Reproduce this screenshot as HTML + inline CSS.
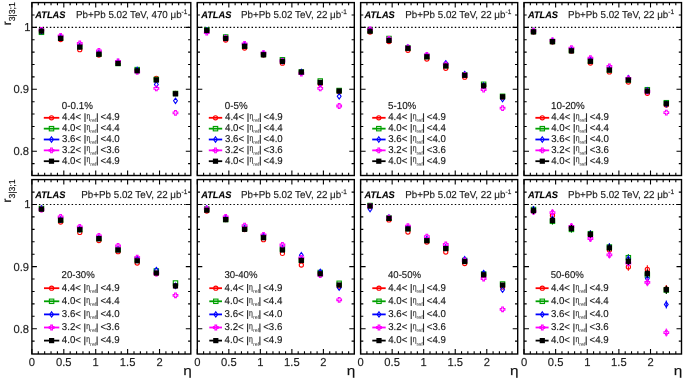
<!DOCTYPE html><html><head><meta charset="utf-8"><style>
html,body{margin:0;padding:0;background:#fff;width:685px;height:380px;overflow:hidden}
svg{display:block;font-family:"Liberation Sans", sans-serif;will-change:transform;text-rendering:geometricPrecision} svg text{stroke:#000;stroke-width:0.25px;stroke-opacity:0.5}
</style></head><body>
<svg width="685" height="380" viewBox="0 0 685 380">
<rect width="685" height="380" fill="#fff"/>
<g><line x1="31.90" y1="27.40" x2="190.80" y2="27.40" stroke="#000" stroke-width="1.15" stroke-dasharray="1.45 2.18" stroke-dashoffset="0.2"/><path d="M31.90 175.50v-5M31.90 2.60v5M38.28 175.50v-2.7M38.28 2.60v2.7M44.66 175.50v-2.7M44.66 2.60v2.7M51.04 175.50v-2.7M51.04 2.60v2.7M57.43 175.50v-2.7M57.43 2.60v2.7M63.81 175.50v-5M63.81 2.60v5M70.19 175.50v-2.7M70.19 2.60v2.7M76.57 175.50v-2.7M76.57 2.60v2.7M82.95 175.50v-2.7M82.95 2.60v2.7M89.33 175.50v-2.7M89.33 2.60v2.7M95.72 175.50v-5M95.72 2.60v5M102.10 175.50v-2.7M102.10 2.60v2.7M108.48 175.50v-2.7M108.48 2.60v2.7M114.86 175.50v-2.7M114.86 2.60v2.7M121.24 175.50v-2.7M121.24 2.60v2.7M127.62 175.50v-5M127.62 2.60v5M134.00 175.50v-2.7M134.00 2.60v2.7M140.39 175.50v-2.7M140.39 2.60v2.7M146.77 175.50v-2.7M146.77 2.60v2.7M153.15 175.50v-2.7M153.15 2.60v2.7M159.53 175.50v-5M159.53 2.60v5M165.91 175.50v-2.7M165.91 2.60v2.7M172.29 175.50v-2.7M172.29 2.60v2.7M178.68 175.50v-2.7M178.68 2.60v2.7M185.06 175.50v-2.7M185.06 2.60v2.7M31.90 163.58h2.7M190.80 163.58h-2.7M31.90 151.20h5M190.80 151.20h-5M31.90 138.82h2.7M190.80 138.82h-2.7M31.90 126.44h2.7M190.80 126.44h-2.7M31.90 114.06h2.7M190.80 114.06h-2.7M31.90 101.68h2.7M190.80 101.68h-2.7M31.90 89.30h5M190.80 89.30h-5M31.90 76.92h2.7M190.80 76.92h-2.7M31.90 64.54h2.7M190.80 64.54h-2.7M31.90 52.16h2.7M190.80 52.16h-2.7M31.90 39.78h2.7M190.80 39.78h-2.7M31.90 27.40h5M190.80 27.40h-5M31.90 15.02h2.7M190.80 15.02h-2.7" stroke="#000" stroke-width="1.1" fill="none"/><circle cx="41.47" cy="31.00" r="2.10" fill="none" stroke="#ff0000" stroke-width="1.1"/><rect x="39.27" y="30.10" width="4.40" height="4.40" fill="none" stroke="#00a000" stroke-width="1.1"/><path d="M41.47 28.30L43.37 31.00L41.47 33.70L39.57 31.00Z" fill="none" stroke="#0000ff" stroke-width="1.1"/><path d="M40.62 27.45H42.32V28.95H43.82V30.65H42.32V32.15H40.62V30.65H39.12V28.95H40.62Z" fill="none" stroke="#ff00ff" stroke-width="1.1"/><rect x="38.87" y="28.50" width="5.20" height="5.20" fill="#000000"/><circle cx="60.62" cy="39.50" r="2.10" fill="none" stroke="#ff0000" stroke-width="1.1"/><rect x="58.42" y="35.80" width="4.40" height="4.40" fill="none" stroke="#00a000" stroke-width="1.1"/><path d="M60.62 34.80L62.52 37.50L60.62 40.20L58.72 37.50Z" fill="none" stroke="#0000ff" stroke-width="1.1"/><path d="M59.77 33.65H61.47V35.15H62.97V36.85H61.47V38.35H59.77V36.85H58.27V35.15H59.77Z" fill="none" stroke="#ff00ff" stroke-width="1.1"/><rect x="58.02" y="35.80" width="5.20" height="5.20" fill="#000000"/><circle cx="79.76" cy="49.70" r="2.10" fill="none" stroke="#ff0000" stroke-width="1.1"/><rect x="77.56" y="44.30" width="4.40" height="4.40" fill="none" stroke="#00a000" stroke-width="1.1"/><path d="M79.76 43.30L81.66 46.00L79.76 48.70L77.86 46.00Z" fill="none" stroke="#0000ff" stroke-width="1.1"/><path d="M78.91 41.15H80.61V42.65H82.11V44.35H80.61V45.85H78.91V44.35H77.41V42.65H78.91Z" fill="none" stroke="#ff00ff" stroke-width="1.1"/><rect x="77.16" y="44.50" width="5.20" height="5.20" fill="#000000"/><circle cx="98.91" cy="55.00" r="2.10" fill="none" stroke="#ff0000" stroke-width="1.1"/><rect x="96.71" y="51.80" width="4.40" height="4.40" fill="none" stroke="#00a000" stroke-width="1.1"/><path d="M98.91 50.30L100.81 53.00L98.91 55.70L97.01 53.00Z" fill="none" stroke="#0000ff" stroke-width="1.1"/><path d="M98.06 48.65H99.76V50.15H101.26V51.85H99.76V53.35H98.06V51.85H96.56V50.15H98.06Z" fill="none" stroke="#ff00ff" stroke-width="1.1"/><rect x="96.31" y="51.60" width="5.20" height="5.20" fill="#000000"/><circle cx="118.05" cy="63.00" r="2.10" fill="none" stroke="#ff0000" stroke-width="1.1"/><rect x="115.85" y="61.30" width="4.40" height="4.40" fill="none" stroke="#00a000" stroke-width="1.1"/><path d="M118.05 59.30L119.95 62.00L118.05 64.70L116.15 62.00Z" fill="none" stroke="#0000ff" stroke-width="1.1"/><path d="M117.20 59.15H118.90V60.65H120.40V62.35H118.90V63.85H117.20V62.35H115.70V60.65H117.20Z" fill="none" stroke="#ff00ff" stroke-width="1.1"/><rect x="115.45" y="60.80" width="5.20" height="5.20" fill="#000000"/><circle cx="137.20" cy="70.50" r="2.10" fill="none" stroke="#ff0000" stroke-width="1.1"/><rect x="135.00" y="67.40" width="4.40" height="4.40" fill="none" stroke="#00a000" stroke-width="1.1"/><path d="M137.20 67.30L139.10 70.00L137.20 72.70L135.30 70.00Z" fill="none" stroke="#0000ff" stroke-width="1.1"/><path d="M136.35 69.45H138.05V70.95H139.55V72.65H138.05V74.15H136.35V72.65H134.85V70.95H136.35Z" fill="none" stroke="#ff00ff" stroke-width="1.1"/><rect x="134.60" y="68.20" width="5.20" height="5.20" fill="#000000"/><circle cx="156.34" cy="78.40" r="2.10" fill="none" stroke="#ff0000" stroke-width="1.1"/><rect x="154.14" y="77.30" width="4.40" height="4.40" fill="none" stroke="#00a000" stroke-width="1.1"/><path d="M156.34 81.80L158.24 84.50L156.34 87.20L154.44 84.50Z" fill="none" stroke="#0000ff" stroke-width="1.1"/><path d="M155.49 86.05H157.19V87.55H158.69V89.25H157.19V90.75H155.49V89.25H153.99V87.55H155.49Z" fill="none" stroke="#ff00ff" stroke-width="1.1"/><rect x="153.74" y="77.40" width="5.20" height="5.20" fill="#000000"/><circle cx="175.48" cy="93.50" r="2.10" fill="none" stroke="#ff0000" stroke-width="1.1"/><rect x="173.28" y="91.30" width="4.40" height="4.40" fill="none" stroke="#00a000" stroke-width="1.1"/><path d="M175.48 98.10L177.38 100.80L175.48 103.50L173.58 100.80Z" fill="none" stroke="#0000ff" stroke-width="1.1"/><path d="M174.63 110.55H176.33V112.05H177.83V113.75H176.33V115.25H174.63V113.75H173.13V112.05H174.63Z" fill="none" stroke="#ff00ff" stroke-width="1.1"/><rect x="172.88" y="91.20" width="5.20" height="5.20" fill="#000000"/><rect x="31.90" y="2.60" width="158.90" height="172.90" fill="none" stroke="#000" stroke-width="1.4"/><text transform="matrix(1 0 0 1.03 0 -0.540)" x="35.30" y="18.0" font-size="9.25" font-weight="bold" font-style="italic" fill="#000">ATLAS</text><text transform="matrix(1 0 0 1.03 0 -0.540)" x="76.00" y="18.0" font-size="9.8" fill="#222">Pb+Pb 5.02 TeV, 470 μb<tspan font-size="6.5" dy="-4.2">-1</tspan></text><text transform="matrix(1 0 0 1.03 0 -3.264)" x="61.80" y="108.8" font-size="9.8" fill="#1a1a1a">0-0.1%</text><line x1="43.80" y1="117.80" x2="59.30" y2="117.80" stroke="#ff0000" stroke-width="1.8"/><circle cx="51.50" cy="117.80" r="2.10" fill="none" stroke="#ff0000" stroke-width="1.1"/><text transform="matrix(1 0 0 1.03 0 -3.603)" x="62.00" y="120.10" font-size="9.7" fill="#1a1a1a">4.4&lt;</text><path d="M85.00 113.20V122.00M97.30 113.20V122.00" stroke="#2a2a2a" stroke-width="1.1"/><text x="86.50" y="118.90" font-size="8.8" fill="#333" transform="translate(86.50 0) scale(0.78 1) translate(-86.50 0)">η</text><text x="90.30" y="122.20" font-size="5.4" fill="#444" style="stroke:none">ref</text><text transform="matrix(1 0 0 1.03 0 -3.603)" x="100.60" y="120.10" font-size="9.7" fill="#1a1a1a">&lt;4.9</text><line x1="43.80" y1="128.65" x2="59.30" y2="128.65" stroke="#00a000" stroke-width="1.8"/><rect x="49.30" y="126.45" width="4.40" height="4.40" fill="none" stroke="#00a000" stroke-width="1.1"/><text transform="matrix(1 0 0 1.03 0 -3.929)" x="62.00" y="130.95" font-size="9.7" fill="#1a1a1a">4.0&lt;</text><path d="M85.00 124.05V132.85M97.30 124.05V132.85" stroke="#2a2a2a" stroke-width="1.1"/><text x="86.50" y="129.75" font-size="8.8" fill="#333" transform="translate(86.50 0) scale(0.78 1) translate(-86.50 0)">η</text><text x="90.30" y="133.05" font-size="5.4" fill="#444" style="stroke:none">ref</text><text transform="matrix(1 0 0 1.03 0 -3.929)" x="100.60" y="130.95" font-size="9.7" fill="#1a1a1a">&lt;4.4</text><line x1="43.80" y1="139.50" x2="59.30" y2="139.50" stroke="#0000ff" stroke-width="1.8"/><path d="M51.50 136.80L53.40 139.50L51.50 142.20L49.60 139.50Z" fill="none" stroke="#0000ff" stroke-width="1.1"/><text transform="matrix(1 0 0 1.03 0 -4.254)" x="62.00" y="141.80" font-size="9.7" fill="#1a1a1a">3.6&lt;</text><path d="M85.00 134.90V143.70M97.30 134.90V143.70" stroke="#2a2a2a" stroke-width="1.1"/><text x="86.50" y="140.60" font-size="8.8" fill="#333" transform="translate(86.50 0) scale(0.78 1) translate(-86.50 0)">η</text><text x="90.30" y="143.90" font-size="5.4" fill="#444" style="stroke:none">ref</text><text transform="matrix(1 0 0 1.03 0 -4.254)" x="100.60" y="141.80" font-size="9.7" fill="#1a1a1a">&lt;4.0</text><line x1="43.80" y1="150.35" x2="59.30" y2="150.35" stroke="#ff00ff" stroke-width="1.8"/><path d="M50.65 148.00H52.35V149.50H53.85V151.20H52.35V152.70H50.65V151.20H49.15V149.50H50.65Z" fill="none" stroke="#ff00ff" stroke-width="1.1"/><text transform="matrix(1 0 0 1.03 0 -4.580)" x="62.00" y="152.65" font-size="9.7" fill="#1a1a1a">3.2&lt;</text><path d="M85.00 145.75V154.55M97.30 145.75V154.55" stroke="#2a2a2a" stroke-width="1.1"/><text x="86.50" y="151.45" font-size="8.8" fill="#333" transform="translate(86.50 0) scale(0.78 1) translate(-86.50 0)">η</text><text x="90.30" y="154.75" font-size="5.4" fill="#444" style="stroke:none">ref</text><text transform="matrix(1 0 0 1.03 0 -4.580)" x="100.60" y="152.65" font-size="9.7" fill="#1a1a1a">&lt;3.6</text><line x1="43.80" y1="161.20" x2="59.30" y2="161.20" stroke="#000000" stroke-width="1.8"/><rect x="48.90" y="158.60" width="5.20" height="5.20" fill="#000000"/><text transform="matrix(1 0 0 1.03 0 -4.905)" x="62.00" y="163.50" font-size="9.7" fill="#1a1a1a">4.0&lt;</text><path d="M85.00 156.60V165.40M97.30 156.60V165.40" stroke="#2a2a2a" stroke-width="1.1"/><text x="86.50" y="162.30" font-size="8.8" fill="#333" transform="translate(86.50 0) scale(0.78 1) translate(-86.50 0)">η</text><text x="90.30" y="165.60" font-size="5.4" fill="#444" style="stroke:none">ref</text><text transform="matrix(1 0 0 1.03 0 -4.905)" x="100.60" y="163.50" font-size="9.7" fill="#1a1a1a">&lt;4.9</text></g>
<g><line x1="197.30" y1="27.40" x2="354.30" y2="27.40" stroke="#000" stroke-width="1.15" stroke-dasharray="1.45 2.18" stroke-dashoffset="0.2"/><path d="M197.30 175.50v-5M197.30 2.60v5M203.61 175.50v-2.7M203.61 2.60v2.7M209.91 175.50v-2.7M209.91 2.60v2.7M216.22 175.50v-2.7M216.22 2.60v2.7M222.52 175.50v-2.7M222.52 2.60v2.7M228.83 175.50v-5M228.83 2.60v5M235.13 175.50v-2.7M235.13 2.60v2.7M241.44 175.50v-2.7M241.44 2.60v2.7M247.74 175.50v-2.7M247.74 2.60v2.7M254.05 175.50v-2.7M254.05 2.60v2.7M260.35 175.50v-5M260.35 2.60v5M266.66 175.50v-2.7M266.66 2.60v2.7M272.96 175.50v-2.7M272.96 2.60v2.7M279.27 175.50v-2.7M279.27 2.60v2.7M285.57 175.50v-2.7M285.57 2.60v2.7M291.88 175.50v-5M291.88 2.60v5M298.18 175.50v-2.7M298.18 2.60v2.7M304.49 175.50v-2.7M304.49 2.60v2.7M310.79 175.50v-2.7M310.79 2.60v2.7M317.10 175.50v-2.7M317.10 2.60v2.7M323.40 175.50v-5M323.40 2.60v5M329.71 175.50v-2.7M329.71 2.60v2.7M336.01 175.50v-2.7M336.01 2.60v2.7M342.32 175.50v-2.7M342.32 2.60v2.7M348.63 175.50v-2.7M348.63 2.60v2.7M197.30 163.58h2.7M354.30 163.58h-2.7M197.30 151.20h5M354.30 151.20h-5M197.30 138.82h2.7M354.30 138.82h-2.7M197.30 126.44h2.7M354.30 126.44h-2.7M197.30 114.06h2.7M354.30 114.06h-2.7M197.30 101.68h2.7M354.30 101.68h-2.7M197.30 89.30h5M354.30 89.30h-5M197.30 76.92h2.7M354.30 76.92h-2.7M197.30 64.54h2.7M354.30 64.54h-2.7M197.30 52.16h2.7M354.30 52.16h-2.7M197.30 39.78h2.7M354.30 39.78h-2.7M197.30 27.40h5M354.30 27.40h-5M197.30 15.02h2.7M354.30 15.02h-2.7" stroke="#000" stroke-width="1.1" fill="none"/><circle cx="206.76" cy="30.50" r="2.10" fill="none" stroke="#ff0000" stroke-width="1.1"/><rect x="204.56" y="27.80" width="4.40" height="4.40" fill="none" stroke="#00a000" stroke-width="1.1"/><path d="M206.76 27.80L208.66 30.50L206.76 33.20L204.86 30.50Z" fill="none" stroke="#0000ff" stroke-width="1.1"/><path d="M205.91 30.25H207.61V31.75H209.11V33.45H207.61V34.95H205.91V33.45H204.41V31.75H205.91Z" fill="none" stroke="#ff00ff" stroke-width="1.1"/><rect x="204.16" y="27.90" width="5.20" height="5.20" fill="#000000"/><circle cx="225.67" cy="40.00" r="2.10" fill="none" stroke="#ff0000" stroke-width="1.1"/><rect x="223.47" y="34.80" width="4.40" height="4.40" fill="none" stroke="#00a000" stroke-width="1.1"/><path d="M225.67 35.30L227.57 38.00L225.67 40.70L223.77 38.00Z" fill="none" stroke="#0000ff" stroke-width="1.1"/><path d="M224.82 35.65H226.52V37.15H228.02V38.85H226.52V40.35H224.82V38.85H223.32V37.15H224.82Z" fill="none" stroke="#ff00ff" stroke-width="1.1"/><rect x="223.07" y="35.80" width="5.20" height="5.20" fill="#000000"/><circle cx="244.59" cy="48.00" r="2.10" fill="none" stroke="#ff0000" stroke-width="1.1"/><rect x="242.39" y="43.80" width="4.40" height="4.40" fill="none" stroke="#00a000" stroke-width="1.1"/><path d="M244.59 42.80L246.49 45.50L244.59 48.20L242.69 45.50Z" fill="none" stroke="#0000ff" stroke-width="1.1"/><path d="M243.74 41.65H245.44V43.15H246.94V44.85H245.44V46.35H243.74V44.85H242.24V43.15H243.74Z" fill="none" stroke="#ff00ff" stroke-width="1.1"/><rect x="241.99" y="43.70" width="5.20" height="5.20" fill="#000000"/><circle cx="263.50" cy="55.00" r="2.10" fill="none" stroke="#ff0000" stroke-width="1.1"/><rect x="261.30" y="52.30" width="4.40" height="4.40" fill="none" stroke="#00a000" stroke-width="1.1"/><path d="M263.50 51.30L265.40 54.00L263.50 56.70L261.60 54.00Z" fill="none" stroke="#0000ff" stroke-width="1.1"/><path d="M262.65 50.85H264.35V52.35H265.85V54.05H264.35V55.55H262.65V54.05H261.15V52.35H262.65Z" fill="none" stroke="#ff00ff" stroke-width="1.1"/><rect x="260.90" y="52.10" width="5.20" height="5.20" fill="#000000"/><circle cx="282.42" cy="63.20" r="2.10" fill="none" stroke="#ff0000" stroke-width="1.1"/><rect x="280.22" y="57.60" width="4.40" height="4.40" fill="none" stroke="#00a000" stroke-width="1.1"/><path d="M282.42 58.30L284.32 61.00L282.42 63.70L280.52 61.00Z" fill="none" stroke="#0000ff" stroke-width="1.1"/><path d="M281.57 58.65H283.27V60.15H284.77V61.85H283.27V63.35H281.57V61.85H280.07V60.15H281.57Z" fill="none" stroke="#ff00ff" stroke-width="1.1"/><rect x="279.82" y="58.80" width="5.20" height="5.20" fill="#000000"/><circle cx="301.34" cy="72.50" r="2.10" fill="none" stroke="#ff0000" stroke-width="1.1"/><rect x="299.14" y="69.80" width="4.40" height="4.40" fill="none" stroke="#00a000" stroke-width="1.1"/><path d="M301.34 69.30L303.24 72.00L301.34 74.70L299.44 72.00Z" fill="none" stroke="#0000ff" stroke-width="1.1"/><path d="M300.49 71.15H302.19V72.65H303.69V74.35H302.19V75.85H300.49V74.35H298.99V72.65H300.49Z" fill="none" stroke="#ff00ff" stroke-width="1.1"/><rect x="298.74" y="69.50" width="5.20" height="5.20" fill="#000000"/><circle cx="320.25" cy="84.00" r="2.10" fill="none" stroke="#ff0000" stroke-width="1.1"/><rect x="318.05" y="78.80" width="4.40" height="4.40" fill="none" stroke="#00a000" stroke-width="1.1"/><path d="M320.25 80.80L322.15 83.50L320.25 86.20L318.35 83.50Z" fill="none" stroke="#0000ff" stroke-width="1.1"/><path d="M319.40 86.05H321.10V87.55H322.60V89.25H321.10V90.75H319.40V89.25H317.90V87.55H319.40Z" fill="none" stroke="#ff00ff" stroke-width="1.1"/><rect x="317.65" y="79.80" width="5.20" height="5.20" fill="#000000"/><circle cx="339.17" cy="91.50" r="2.10" fill="none" stroke="#ff0000" stroke-width="1.1"/><rect x="336.97" y="88.30" width="4.40" height="4.40" fill="none" stroke="#00a000" stroke-width="1.1"/><path d="M339.17 93.60L341.07 96.30L339.17 99.00L337.27 96.30Z" fill="none" stroke="#0000ff" stroke-width="1.1"/><path d="M338.32 103.65H340.02V105.15H341.52V106.85H340.02V108.35H338.32V106.85H336.82V105.15H338.32Z" fill="none" stroke="#ff00ff" stroke-width="1.1"/><rect x="336.57" y="88.40" width="5.20" height="5.20" fill="#000000"/><rect x="197.30" y="2.60" width="157.00" height="172.90" fill="none" stroke="#000" stroke-width="1.4"/><text transform="matrix(1 0 0 1.03 0 -0.540)" x="201.20" y="18.0" font-size="9.25" font-weight="bold" font-style="italic" fill="#000">ATLAS</text><text transform="matrix(1 0 0 1.03 0 -0.540)" x="241.00" y="18.0" font-size="9.8" fill="#222">Pb+Pb 5.02 TeV, 22 μb<tspan font-size="6.5" dy="-4.2">-1</tspan></text><text transform="matrix(1 0 0 1.03 0 -3.264)" x="224.80" y="108.8" font-size="9.8" fill="#1a1a1a">0-5%</text><line x1="208.80" y1="117.80" x2="222.20" y2="117.80" stroke="#ff0000" stroke-width="1.8"/><circle cx="215.50" cy="117.80" r="2.10" fill="none" stroke="#ff0000" stroke-width="1.1"/><text transform="matrix(1 0 0 1.03 0 -3.603)" x="225.00" y="120.10" font-size="9.7" fill="#1a1a1a">4.4&lt;</text><path d="M248.00 113.20V122.00M260.30 113.20V122.00" stroke="#2a2a2a" stroke-width="1.1"/><text x="249.50" y="118.90" font-size="8.8" fill="#333" transform="translate(249.50 0) scale(0.78 1) translate(-249.50 0)">η</text><text x="253.30" y="122.20" font-size="5.4" fill="#444" style="stroke:none">ref</text><text transform="matrix(1 0 0 1.03 0 -3.603)" x="263.60" y="120.10" font-size="9.7" fill="#1a1a1a">&lt;4.9</text><line x1="208.80" y1="128.65" x2="222.20" y2="128.65" stroke="#00a000" stroke-width="1.8"/><rect x="213.30" y="126.45" width="4.40" height="4.40" fill="none" stroke="#00a000" stroke-width="1.1"/><text transform="matrix(1 0 0 1.03 0 -3.929)" x="225.00" y="130.95" font-size="9.7" fill="#1a1a1a">4.0&lt;</text><path d="M248.00 124.05V132.85M260.30 124.05V132.85" stroke="#2a2a2a" stroke-width="1.1"/><text x="249.50" y="129.75" font-size="8.8" fill="#333" transform="translate(249.50 0) scale(0.78 1) translate(-249.50 0)">η</text><text x="253.30" y="133.05" font-size="5.4" fill="#444" style="stroke:none">ref</text><text transform="matrix(1 0 0 1.03 0 -3.929)" x="263.60" y="130.95" font-size="9.7" fill="#1a1a1a">&lt;4.4</text><line x1="208.80" y1="139.50" x2="222.20" y2="139.50" stroke="#0000ff" stroke-width="1.8"/><path d="M215.50 136.80L217.40 139.50L215.50 142.20L213.60 139.50Z" fill="none" stroke="#0000ff" stroke-width="1.1"/><text transform="matrix(1 0 0 1.03 0 -4.254)" x="225.00" y="141.80" font-size="9.7" fill="#1a1a1a">3.6&lt;</text><path d="M248.00 134.90V143.70M260.30 134.90V143.70" stroke="#2a2a2a" stroke-width="1.1"/><text x="249.50" y="140.60" font-size="8.8" fill="#333" transform="translate(249.50 0) scale(0.78 1) translate(-249.50 0)">η</text><text x="253.30" y="143.90" font-size="5.4" fill="#444" style="stroke:none">ref</text><text transform="matrix(1 0 0 1.03 0 -4.254)" x="263.60" y="141.80" font-size="9.7" fill="#1a1a1a">&lt;4.0</text><line x1="208.80" y1="150.35" x2="222.20" y2="150.35" stroke="#ff00ff" stroke-width="1.8"/><path d="M214.65 148.00H216.35V149.50H217.85V151.20H216.35V152.70H214.65V151.20H213.15V149.50H214.65Z" fill="none" stroke="#ff00ff" stroke-width="1.1"/><text transform="matrix(1 0 0 1.03 0 -4.580)" x="225.00" y="152.65" font-size="9.7" fill="#1a1a1a">3.2&lt;</text><path d="M248.00 145.75V154.55M260.30 145.75V154.55" stroke="#2a2a2a" stroke-width="1.1"/><text x="249.50" y="151.45" font-size="8.8" fill="#333" transform="translate(249.50 0) scale(0.78 1) translate(-249.50 0)">η</text><text x="253.30" y="154.75" font-size="5.4" fill="#444" style="stroke:none">ref</text><text transform="matrix(1 0 0 1.03 0 -4.580)" x="263.60" y="152.65" font-size="9.7" fill="#1a1a1a">&lt;3.6</text><line x1="208.80" y1="161.20" x2="222.20" y2="161.20" stroke="#000000" stroke-width="1.8"/><rect x="212.90" y="158.60" width="5.20" height="5.20" fill="#000000"/><text transform="matrix(1 0 0 1.03 0 -4.905)" x="225.00" y="163.50" font-size="9.7" fill="#1a1a1a">4.0&lt;</text><path d="M248.00 156.60V165.40M260.30 156.60V165.40" stroke="#2a2a2a" stroke-width="1.1"/><text x="249.50" y="162.30" font-size="8.8" fill="#333" transform="translate(249.50 0) scale(0.78 1) translate(-249.50 0)">η</text><text x="253.30" y="165.60" font-size="5.4" fill="#444" style="stroke:none">ref</text><text transform="matrix(1 0 0 1.03 0 -4.905)" x="263.60" y="163.50" font-size="9.7" fill="#1a1a1a">&lt;4.9</text></g>
<g><line x1="360.60" y1="27.40" x2="517.70" y2="27.40" stroke="#000" stroke-width="1.15" stroke-dasharray="1.45 2.18" stroke-dashoffset="0.2"/><path d="M360.60 175.50v-5M360.60 2.60v5M366.91 175.50v-2.7M366.91 2.60v2.7M373.22 175.50v-2.7M373.22 2.60v2.7M379.53 175.50v-2.7M379.53 2.60v2.7M385.84 175.50v-2.7M385.84 2.60v2.7M392.15 175.50v-5M392.15 2.60v5M398.46 175.50v-2.7M398.46 2.60v2.7M404.76 175.50v-2.7M404.76 2.60v2.7M411.07 175.50v-2.7M411.07 2.60v2.7M417.38 175.50v-2.7M417.38 2.60v2.7M423.69 175.50v-5M423.69 2.60v5M430.00 175.50v-2.7M430.00 2.60v2.7M436.31 175.50v-2.7M436.31 2.60v2.7M442.62 175.50v-2.7M442.62 2.60v2.7M448.93 175.50v-2.7M448.93 2.60v2.7M455.24 175.50v-5M455.24 2.60v5M461.55 175.50v-2.7M461.55 2.60v2.7M467.86 175.50v-2.7M467.86 2.60v2.7M474.17 175.50v-2.7M474.17 2.60v2.7M480.48 175.50v-2.7M480.48 2.60v2.7M486.78 175.50v-5M486.78 2.60v5M493.09 175.50v-2.7M493.09 2.60v2.7M499.40 175.50v-2.7M499.40 2.60v2.7M505.71 175.50v-2.7M505.71 2.60v2.7M512.02 175.50v-2.7M512.02 2.60v2.7M360.60 163.58h2.7M517.70 163.58h-2.7M360.60 151.20h5M517.70 151.20h-5M360.60 138.82h2.7M517.70 138.82h-2.7M360.60 126.44h2.7M517.70 126.44h-2.7M360.60 114.06h2.7M517.70 114.06h-2.7M360.60 101.68h2.7M517.70 101.68h-2.7M360.60 89.30h5M517.70 89.30h-5M360.60 76.92h2.7M517.70 76.92h-2.7M360.60 64.54h2.7M517.70 64.54h-2.7M360.60 52.16h2.7M517.70 52.16h-2.7M360.60 39.78h2.7M517.70 39.78h-2.7M360.60 27.40h5M517.70 27.40h-5M360.60 15.02h2.7M517.70 15.02h-2.7" stroke="#000" stroke-width="1.1" fill="none"/><circle cx="370.06" cy="32.00" r="2.10" fill="none" stroke="#ff0000" stroke-width="1.1"/><rect x="367.86" y="28.30" width="4.40" height="4.40" fill="none" stroke="#00a000" stroke-width="1.1"/><path d="M370.06 27.30L371.96 30.00L370.06 32.70L368.16 30.00Z" fill="none" stroke="#0000ff" stroke-width="1.1"/><path d="M369.21 27.15H370.91V28.65H372.41V30.35H370.91V31.85H369.21V30.35H367.71V28.65H369.21Z" fill="none" stroke="#ff00ff" stroke-width="1.1"/><rect x="367.46" y="28.60" width="5.20" height="5.20" fill="#000000"/><circle cx="388.99" cy="41.50" r="2.10" fill="none" stroke="#ff0000" stroke-width="1.1"/><rect x="386.79" y="36.30" width="4.40" height="4.40" fill="none" stroke="#00a000" stroke-width="1.1"/><path d="M388.99 36.80L390.89 39.50L388.99 42.20L387.09 39.50Z" fill="none" stroke="#0000ff" stroke-width="1.1"/><path d="M388.14 36.65H389.84V38.15H391.34V39.85H389.84V41.35H388.14V39.85H386.64V38.15H388.14Z" fill="none" stroke="#ff00ff" stroke-width="1.1"/><rect x="386.39" y="37.80" width="5.20" height="5.20" fill="#000000"/><circle cx="407.92" cy="50.30" r="2.10" fill="none" stroke="#ff0000" stroke-width="1.1"/><rect x="405.72" y="45.80" width="4.40" height="4.40" fill="none" stroke="#00a000" stroke-width="1.1"/><path d="M407.92 44.80L409.82 47.50L407.92 50.20L406.02 47.50Z" fill="none" stroke="#0000ff" stroke-width="1.1"/><path d="M407.07 45.05H408.77V46.55H410.27V48.25H408.77V49.75H407.07V48.25H405.57V46.55H407.07Z" fill="none" stroke="#ff00ff" stroke-width="1.1"/><rect x="405.32" y="45.70" width="5.20" height="5.20" fill="#000000"/><circle cx="426.85" cy="59.00" r="2.10" fill="none" stroke="#ff0000" stroke-width="1.1"/><rect x="424.65" y="54.30" width="4.40" height="4.40" fill="none" stroke="#00a000" stroke-width="1.1"/><path d="M426.85 52.80L428.75 55.50L426.85 58.20L424.95 55.50Z" fill="none" stroke="#0000ff" stroke-width="1.1"/><path d="M426.00 52.65H427.70V54.15H429.20V55.85H427.70V57.35H426.00V55.85H424.50V54.15H426.00Z" fill="none" stroke="#ff00ff" stroke-width="1.1"/><rect x="424.25" y="54.20" width="5.20" height="5.20" fill="#000000"/><circle cx="445.77" cy="68.30" r="2.10" fill="none" stroke="#ff0000" stroke-width="1.1"/><rect x="443.57" y="63.30" width="4.40" height="4.40" fill="none" stroke="#00a000" stroke-width="1.1"/><path d="M445.77 60.60L447.67 63.30L445.77 66.00L443.87 63.30Z" fill="none" stroke="#0000ff" stroke-width="1.1"/><path d="M444.92 62.15H446.62V63.65H448.12V65.35H446.62V66.85H444.92V65.35H443.42V63.65H444.92Z" fill="none" stroke="#ff00ff" stroke-width="1.1"/><rect x="443.17" y="63.40" width="5.20" height="5.20" fill="#000000"/><circle cx="464.70" cy="77.20" r="2.10" fill="none" stroke="#ff0000" stroke-width="1.1"/><rect x="462.50" y="72.80" width="4.40" height="4.40" fill="none" stroke="#00a000" stroke-width="1.1"/><path d="M464.70 71.40L466.60 74.10L464.70 76.80L462.80 74.10Z" fill="none" stroke="#0000ff" stroke-width="1.1"/><path d="M463.85 72.65H465.55V74.15H467.05V75.85H465.55V77.35H463.85V75.85H462.35V74.15H463.85Z" fill="none" stroke="#ff00ff" stroke-width="1.1"/><rect x="462.10" y="72.70" width="5.20" height="5.20" fill="#000000"/><circle cx="483.63" cy="86.00" r="2.10" fill="none" stroke="#ff0000" stroke-width="1.1"/><rect x="481.43" y="82.10" width="4.40" height="4.40" fill="none" stroke="#00a000" stroke-width="1.1"/><path d="M483.63 82.80L485.53 85.50L483.63 88.20L481.73 85.50Z" fill="none" stroke="#0000ff" stroke-width="1.1"/><path d="M482.78 87.35H484.48V88.85H485.98V90.55H484.48V92.05H482.78V90.55H481.28V88.85H482.78Z" fill="none" stroke="#ff00ff" stroke-width="1.1"/><rect x="481.03" y="83.20" width="5.20" height="5.20" fill="#000000"/><circle cx="502.56" cy="97.00" r="2.10" fill="none" stroke="#ff0000" stroke-width="1.1"/><rect x="500.36" y="94.10" width="4.40" height="4.40" fill="none" stroke="#00a000" stroke-width="1.1"/><path d="M502.56 96.30L504.46 99.00L502.56 101.70L500.66 99.00Z" fill="none" stroke="#0000ff" stroke-width="1.1"/><path d="M501.71 105.85H503.41V107.35H504.91V109.05H503.41V110.55H501.71V109.05H500.21V107.35H501.71Z" fill="none" stroke="#ff00ff" stroke-width="1.1"/><rect x="499.96" y="94.20" width="5.20" height="5.20" fill="#000000"/><rect x="360.60" y="2.60" width="157.10" height="172.90" fill="none" stroke="#000" stroke-width="1.4"/><text transform="matrix(1 0 0 1.03 0 -0.540)" x="364.60" y="18.0" font-size="9.25" font-weight="bold" font-style="italic" fill="#000">ATLAS</text><text transform="matrix(1 0 0 1.03 0 -0.540)" x="405.30" y="18.0" font-size="9.8" fill="#222">Pb+Pb 5.02 TeV, 22 μb<tspan font-size="6.5" dy="-4.2">-1</tspan></text><text transform="matrix(1 0 0 1.03 0 -3.264)" x="388.00" y="108.8" font-size="9.8" fill="#1a1a1a">5-10%</text><line x1="372.20" y1="117.80" x2="385.60" y2="117.80" stroke="#ff0000" stroke-width="1.8"/><circle cx="378.80" cy="117.80" r="2.10" fill="none" stroke="#ff0000" stroke-width="1.1"/><text transform="matrix(1 0 0 1.03 0 -3.603)" x="388.20" y="120.10" font-size="9.7" fill="#1a1a1a">4.4&lt;</text><path d="M411.20 113.20V122.00M423.50 113.20V122.00" stroke="#2a2a2a" stroke-width="1.1"/><text x="412.70" y="118.90" font-size="8.8" fill="#333" transform="translate(412.70 0) scale(0.78 1) translate(-412.70 0)">η</text><text x="416.50" y="122.20" font-size="5.4" fill="#444" style="stroke:none">ref</text><text transform="matrix(1 0 0 1.03 0 -3.603)" x="426.80" y="120.10" font-size="9.7" fill="#1a1a1a">&lt;4.9</text><line x1="372.20" y1="128.65" x2="385.60" y2="128.65" stroke="#00a000" stroke-width="1.8"/><rect x="376.60" y="126.45" width="4.40" height="4.40" fill="none" stroke="#00a000" stroke-width="1.1"/><text transform="matrix(1 0 0 1.03 0 -3.929)" x="388.20" y="130.95" font-size="9.7" fill="#1a1a1a">4.0&lt;</text><path d="M411.20 124.05V132.85M423.50 124.05V132.85" stroke="#2a2a2a" stroke-width="1.1"/><text x="412.70" y="129.75" font-size="8.8" fill="#333" transform="translate(412.70 0) scale(0.78 1) translate(-412.70 0)">η</text><text x="416.50" y="133.05" font-size="5.4" fill="#444" style="stroke:none">ref</text><text transform="matrix(1 0 0 1.03 0 -3.929)" x="426.80" y="130.95" font-size="9.7" fill="#1a1a1a">&lt;4.4</text><line x1="372.20" y1="139.50" x2="385.60" y2="139.50" stroke="#0000ff" stroke-width="1.8"/><path d="M378.80 136.80L380.70 139.50L378.80 142.20L376.90 139.50Z" fill="none" stroke="#0000ff" stroke-width="1.1"/><text transform="matrix(1 0 0 1.03 0 -4.254)" x="388.20" y="141.80" font-size="9.7" fill="#1a1a1a">3.6&lt;</text><path d="M411.20 134.90V143.70M423.50 134.90V143.70" stroke="#2a2a2a" stroke-width="1.1"/><text x="412.70" y="140.60" font-size="8.8" fill="#333" transform="translate(412.70 0) scale(0.78 1) translate(-412.70 0)">η</text><text x="416.50" y="143.90" font-size="5.4" fill="#444" style="stroke:none">ref</text><text transform="matrix(1 0 0 1.03 0 -4.254)" x="426.80" y="141.80" font-size="9.7" fill="#1a1a1a">&lt;4.0</text><line x1="372.20" y1="150.35" x2="385.60" y2="150.35" stroke="#ff00ff" stroke-width="1.8"/><path d="M377.95 148.00H379.65V149.50H381.15V151.20H379.65V152.70H377.95V151.20H376.45V149.50H377.95Z" fill="none" stroke="#ff00ff" stroke-width="1.1"/><text transform="matrix(1 0 0 1.03 0 -4.580)" x="388.20" y="152.65" font-size="9.7" fill="#1a1a1a">3.2&lt;</text><path d="M411.20 145.75V154.55M423.50 145.75V154.55" stroke="#2a2a2a" stroke-width="1.1"/><text x="412.70" y="151.45" font-size="8.8" fill="#333" transform="translate(412.70 0) scale(0.78 1) translate(-412.70 0)">η</text><text x="416.50" y="154.75" font-size="5.4" fill="#444" style="stroke:none">ref</text><text transform="matrix(1 0 0 1.03 0 -4.580)" x="426.80" y="152.65" font-size="9.7" fill="#1a1a1a">&lt;3.6</text><line x1="372.20" y1="161.20" x2="385.60" y2="161.20" stroke="#000000" stroke-width="1.8"/><rect x="376.20" y="158.60" width="5.20" height="5.20" fill="#000000"/><text transform="matrix(1 0 0 1.03 0 -4.905)" x="388.20" y="163.50" font-size="9.7" fill="#1a1a1a">4.0&lt;</text><path d="M411.20 156.60V165.40M423.50 156.60V165.40" stroke="#2a2a2a" stroke-width="1.1"/><text x="412.70" y="162.30" font-size="8.8" fill="#333" transform="translate(412.70 0) scale(0.78 1) translate(-412.70 0)">η</text><text x="416.50" y="165.60" font-size="5.4" fill="#444" style="stroke:none">ref</text><text transform="matrix(1 0 0 1.03 0 -4.905)" x="426.80" y="163.50" font-size="9.7" fill="#1a1a1a">&lt;4.9</text></g>
<g><line x1="524.00" y1="27.40" x2="681.50" y2="27.40" stroke="#000" stroke-width="1.15" stroke-dasharray="1.45 2.18" stroke-dashoffset="0.2"/><path d="M524.00 175.50v-5M524.00 2.60v5M530.33 175.50v-2.7M530.33 2.60v2.7M536.65 175.50v-2.7M536.65 2.60v2.7M542.98 175.50v-2.7M542.98 2.60v2.7M549.30 175.50v-2.7M549.30 2.60v2.7M555.63 175.50v-5M555.63 2.60v5M561.95 175.50v-2.7M561.95 2.60v2.7M568.28 175.50v-2.7M568.28 2.60v2.7M574.60 175.50v-2.7M574.60 2.60v2.7M580.93 175.50v-2.7M580.93 2.60v2.7M587.25 175.50v-5M587.25 2.60v5M593.58 175.50v-2.7M593.58 2.60v2.7M599.90 175.50v-2.7M599.90 2.60v2.7M606.23 175.50v-2.7M606.23 2.60v2.7M612.55 175.50v-2.7M612.55 2.60v2.7M618.88 175.50v-5M618.88 2.60v5M625.20 175.50v-2.7M625.20 2.60v2.7M631.53 175.50v-2.7M631.53 2.60v2.7M637.86 175.50v-2.7M637.86 2.60v2.7M644.18 175.50v-2.7M644.18 2.60v2.7M650.51 175.50v-5M650.51 2.60v5M656.83 175.50v-2.7M656.83 2.60v2.7M663.16 175.50v-2.7M663.16 2.60v2.7M669.48 175.50v-2.7M669.48 2.60v2.7M675.81 175.50v-2.7M675.81 2.60v2.7M524.00 163.58h2.7M681.50 163.58h-2.7M524.00 151.20h5M681.50 151.20h-5M524.00 138.82h2.7M681.50 138.82h-2.7M524.00 126.44h2.7M681.50 126.44h-2.7M524.00 114.06h2.7M681.50 114.06h-2.7M524.00 101.68h2.7M681.50 101.68h-2.7M524.00 89.30h5M681.50 89.30h-5M524.00 76.92h2.7M681.50 76.92h-2.7M524.00 64.54h2.7M681.50 64.54h-2.7M524.00 52.16h2.7M681.50 52.16h-2.7M524.00 39.78h2.7M681.50 39.78h-2.7M524.00 27.40h5M681.50 27.40h-5M524.00 15.02h2.7M681.50 15.02h-2.7" stroke="#000" stroke-width="1.1" fill="none"/><circle cx="533.49" cy="32.00" r="2.10" fill="none" stroke="#ff0000" stroke-width="1.1"/><rect x="531.29" y="29.30" width="4.40" height="4.40" fill="none" stroke="#00a000" stroke-width="1.1"/><path d="M533.49 28.30L535.39 31.00L533.49 33.70L531.59 31.00Z" fill="none" stroke="#0000ff" stroke-width="1.1"/><path d="M532.64 28.45H534.34V29.95H535.84V31.65H534.34V33.15H532.64V31.65H531.14V29.95H532.64Z" fill="none" stroke="#ff00ff" stroke-width="1.1"/><rect x="530.89" y="29.20" width="5.20" height="5.20" fill="#000000"/><circle cx="552.46" cy="42.00" r="2.10" fill="none" stroke="#ff0000" stroke-width="1.1"/><rect x="550.26" y="39.30" width="4.40" height="4.40" fill="none" stroke="#00a000" stroke-width="1.1"/><path d="M552.46 38.30L554.36 41.00L552.46 43.70L550.56 41.00Z" fill="none" stroke="#0000ff" stroke-width="1.1"/><path d="M551.61 38.05H553.31V39.55H554.81V41.25H553.31V42.75H551.61V41.25H550.11V39.55H551.61Z" fill="none" stroke="#ff00ff" stroke-width="1.1"/><rect x="549.86" y="39.00" width="5.20" height="5.20" fill="#000000"/><circle cx="571.44" cy="51.20" r="2.10" fill="none" stroke="#ff0000" stroke-width="1.1"/><rect x="569.24" y="48.30" width="4.40" height="4.40" fill="none" stroke="#00a000" stroke-width="1.1"/><path d="M571.44 47.30L573.34 50.00L571.44 52.70L569.54 50.00Z" fill="none" stroke="#0000ff" stroke-width="1.1"/><path d="M570.59 45.75H572.29V47.25H573.79V48.95H572.29V50.45H570.59V48.95H569.09V47.25H570.59Z" fill="none" stroke="#ff00ff" stroke-width="1.1"/><rect x="568.84" y="48.20" width="5.20" height="5.20" fill="#000000"/><circle cx="590.42" cy="63.00" r="2.10" fill="none" stroke="#ff0000" stroke-width="1.1"/><rect x="588.22" y="58.80" width="4.40" height="4.40" fill="none" stroke="#00a000" stroke-width="1.1"/><path d="M590.42 57.30L592.32 60.00L590.42 62.70L588.52 60.00Z" fill="none" stroke="#0000ff" stroke-width="1.1"/><path d="M589.57 55.85H591.27V57.35H592.77V59.05H591.27V60.55H589.57V59.05H588.07V57.35H589.57Z" fill="none" stroke="#ff00ff" stroke-width="1.1"/><rect x="587.82" y="58.70" width="5.20" height="5.20" fill="#000000"/><circle cx="609.39" cy="71.90" r="2.10" fill="none" stroke="#ff0000" stroke-width="1.1"/><rect x="607.19" y="67.80" width="4.40" height="4.40" fill="none" stroke="#00a000" stroke-width="1.1"/><path d="M609.39 66.30L611.29 69.00L609.39 71.70L607.49 69.00Z" fill="none" stroke="#0000ff" stroke-width="1.1"/><path d="M608.54 64.15H610.24V65.65H611.74V67.35H610.24V68.85H608.54V67.35H607.04V65.65H608.54Z" fill="none" stroke="#ff00ff" stroke-width="1.1"/><rect x="606.79" y="67.40" width="5.20" height="5.20" fill="#000000"/><circle cx="628.37" cy="82.00" r="2.10" fill="none" stroke="#ff0000" stroke-width="1.1"/><rect x="626.17" y="77.80" width="4.40" height="4.40" fill="none" stroke="#00a000" stroke-width="1.1"/><path d="M628.37 75.50L630.27 78.20L628.37 80.90L626.47 78.20Z" fill="none" stroke="#0000ff" stroke-width="1.1"/><path d="M627.52 76.15H629.22V77.65H630.72V79.35H629.22V80.85H627.52V79.35H626.02V77.65H627.52Z" fill="none" stroke="#ff00ff" stroke-width="1.1"/><rect x="625.77" y="77.40" width="5.20" height="5.20" fill="#000000"/><circle cx="647.34" cy="93.30" r="2.10" fill="none" stroke="#ff0000" stroke-width="1.1"/><rect x="645.14" y="87.50" width="4.40" height="4.40" fill="none" stroke="#00a000" stroke-width="1.1"/><path d="M647.34 87.80L649.24 90.50L647.34 93.20L645.44 90.50Z" fill="none" stroke="#0000ff" stroke-width="1.1"/><path d="M646.49 89.15H648.19V90.65H649.69V92.35H648.19V93.85H646.49V92.35H644.99V90.65H646.49Z" fill="none" stroke="#ff00ff" stroke-width="1.1"/><rect x="644.74" y="88.50" width="5.20" height="5.20" fill="#000000"/><circle cx="666.32" cy="105.00" r="2.10" fill="none" stroke="#ff0000" stroke-width="1.1"/><rect x="664.12" y="100.50" width="4.40" height="4.40" fill="none" stroke="#00a000" stroke-width="1.1"/><path d="M666.32 101.30L668.22 104.00L666.32 106.70L664.42 104.00Z" fill="none" stroke="#0000ff" stroke-width="1.1"/><path d="M665.47 110.25H667.17V111.75H668.67V113.45H667.17V114.95H665.47V113.45H663.97V111.75H665.47Z" fill="none" stroke="#ff00ff" stroke-width="1.1"/><rect x="663.72" y="101.10" width="5.20" height="5.20" fill="#000000"/><rect x="524.00" y="2.60" width="157.50" height="172.90" fill="none" stroke="#000" stroke-width="1.4"/><text transform="matrix(1 0 0 1.03 0 -0.540)" x="527.90" y="18.0" font-size="9.25" font-weight="bold" font-style="italic" fill="#000">ATLAS</text><text transform="matrix(1 0 0 1.03 0 -0.540)" x="568.10" y="18.0" font-size="9.8" fill="#222">Pb+Pb 5.02 TeV, 22 μb<tspan font-size="6.5" dy="-4.2">-1</tspan></text><text transform="matrix(1 0 0 1.03 0 -3.264)" x="551.00" y="108.8" font-size="9.8" fill="#1a1a1a">10-20%</text><line x1="535.40" y1="117.80" x2="549.20" y2="117.80" stroke="#ff0000" stroke-width="1.8"/><circle cx="542.30" cy="117.80" r="2.10" fill="none" stroke="#ff0000" stroke-width="1.1"/><text transform="matrix(1 0 0 1.03 0 -3.603)" x="551.20" y="120.10" font-size="9.7" fill="#1a1a1a">4.4&lt;</text><path d="M574.20 113.20V122.00M586.50 113.20V122.00" stroke="#2a2a2a" stroke-width="1.1"/><text x="575.70" y="118.90" font-size="8.8" fill="#333" transform="translate(575.70 0) scale(0.78 1) translate(-575.70 0)">η</text><text x="579.50" y="122.20" font-size="5.4" fill="#444" style="stroke:none">ref</text><text transform="matrix(1 0 0 1.03 0 -3.603)" x="589.80" y="120.10" font-size="9.7" fill="#1a1a1a">&lt;4.9</text><line x1="535.40" y1="128.65" x2="549.20" y2="128.65" stroke="#00a000" stroke-width="1.8"/><rect x="540.10" y="126.45" width="4.40" height="4.40" fill="none" stroke="#00a000" stroke-width="1.1"/><text transform="matrix(1 0 0 1.03 0 -3.929)" x="551.20" y="130.95" font-size="9.7" fill="#1a1a1a">4.0&lt;</text><path d="M574.20 124.05V132.85M586.50 124.05V132.85" stroke="#2a2a2a" stroke-width="1.1"/><text x="575.70" y="129.75" font-size="8.8" fill="#333" transform="translate(575.70 0) scale(0.78 1) translate(-575.70 0)">η</text><text x="579.50" y="133.05" font-size="5.4" fill="#444" style="stroke:none">ref</text><text transform="matrix(1 0 0 1.03 0 -3.929)" x="589.80" y="130.95" font-size="9.7" fill="#1a1a1a">&lt;4.4</text><line x1="535.40" y1="139.50" x2="549.20" y2="139.50" stroke="#0000ff" stroke-width="1.8"/><path d="M542.30 136.80L544.20 139.50L542.30 142.20L540.40 139.50Z" fill="none" stroke="#0000ff" stroke-width="1.1"/><text transform="matrix(1 0 0 1.03 0 -4.254)" x="551.20" y="141.80" font-size="9.7" fill="#1a1a1a">3.6&lt;</text><path d="M574.20 134.90V143.70M586.50 134.90V143.70" stroke="#2a2a2a" stroke-width="1.1"/><text x="575.70" y="140.60" font-size="8.8" fill="#333" transform="translate(575.70 0) scale(0.78 1) translate(-575.70 0)">η</text><text x="579.50" y="143.90" font-size="5.4" fill="#444" style="stroke:none">ref</text><text transform="matrix(1 0 0 1.03 0 -4.254)" x="589.80" y="141.80" font-size="9.7" fill="#1a1a1a">&lt;4.0</text><line x1="535.40" y1="150.35" x2="549.20" y2="150.35" stroke="#ff00ff" stroke-width="1.8"/><path d="M541.45 148.00H543.15V149.50H544.65V151.20H543.15V152.70H541.45V151.20H539.95V149.50H541.45Z" fill="none" stroke="#ff00ff" stroke-width="1.1"/><text transform="matrix(1 0 0 1.03 0 -4.580)" x="551.20" y="152.65" font-size="9.7" fill="#1a1a1a">3.2&lt;</text><path d="M574.20 145.75V154.55M586.50 145.75V154.55" stroke="#2a2a2a" stroke-width="1.1"/><text x="575.70" y="151.45" font-size="8.8" fill="#333" transform="translate(575.70 0) scale(0.78 1) translate(-575.70 0)">η</text><text x="579.50" y="154.75" font-size="5.4" fill="#444" style="stroke:none">ref</text><text transform="matrix(1 0 0 1.03 0 -4.580)" x="589.80" y="152.65" font-size="9.7" fill="#1a1a1a">&lt;3.6</text><line x1="535.40" y1="161.20" x2="549.20" y2="161.20" stroke="#000000" stroke-width="1.8"/><rect x="539.70" y="158.60" width="5.20" height="5.20" fill="#000000"/><text transform="matrix(1 0 0 1.03 0 -4.905)" x="551.20" y="163.50" font-size="9.7" fill="#1a1a1a">4.0&lt;</text><path d="M574.20 156.60V165.40M586.50 156.60V165.40" stroke="#2a2a2a" stroke-width="1.1"/><text x="575.70" y="162.30" font-size="8.8" fill="#333" transform="translate(575.70 0) scale(0.78 1) translate(-575.70 0)">η</text><text x="579.50" y="165.60" font-size="5.4" fill="#444" style="stroke:none">ref</text><text transform="matrix(1 0 0 1.03 0 -4.905)" x="589.80" y="163.50" font-size="9.7" fill="#1a1a1a">&lt;4.9</text></g>
<g><line x1="31.90" y1="204.50" x2="190.80" y2="204.50" stroke="#000" stroke-width="1.15" stroke-dasharray="1.45 2.18" stroke-dashoffset="0.2"/><path d="M31.90 354.00v-5M31.90 179.60v5M38.28 354.00v-2.7M38.28 179.60v2.7M44.66 354.00v-2.7M44.66 179.60v2.7M51.04 354.00v-2.7M51.04 179.60v2.7M57.43 354.00v-2.7M57.43 179.60v2.7M63.81 354.00v-5M63.81 179.60v5M70.19 354.00v-2.7M70.19 179.60v2.7M76.57 354.00v-2.7M76.57 179.60v2.7M82.95 354.00v-2.7M82.95 179.60v2.7M89.33 354.00v-2.7M89.33 179.60v2.7M95.72 354.00v-5M95.72 179.60v5M102.10 354.00v-2.7M102.10 179.60v2.7M108.48 354.00v-2.7M108.48 179.60v2.7M114.86 354.00v-2.7M114.86 179.60v2.7M121.24 354.00v-2.7M121.24 179.60v2.7M127.62 354.00v-5M127.62 179.60v5M134.00 354.00v-2.7M134.00 179.60v2.7M140.39 354.00v-2.7M140.39 179.60v2.7M146.77 354.00v-2.7M146.77 179.60v2.7M153.15 354.00v-2.7M153.15 179.60v2.7M159.53 354.00v-5M159.53 179.60v5M165.91 354.00v-2.7M165.91 179.60v2.7M172.29 354.00v-2.7M172.29 179.60v2.7M178.68 354.00v-2.7M178.68 179.60v2.7M185.06 354.00v-2.7M185.06 179.60v2.7M31.90 341.12h2.7M190.80 341.12h-2.7M31.90 328.70h5M190.80 328.70h-5M31.90 316.28h2.7M190.80 316.28h-2.7M31.90 303.86h2.7M190.80 303.86h-2.7M31.90 291.44h2.7M190.80 291.44h-2.7M31.90 279.02h2.7M190.80 279.02h-2.7M31.90 266.60h5M190.80 266.60h-5M31.90 254.18h2.7M190.80 254.18h-2.7M31.90 241.76h2.7M190.80 241.76h-2.7M31.90 229.34h2.7M190.80 229.34h-2.7M31.90 216.92h2.7M190.80 216.92h-2.7M31.90 204.50h5M190.80 204.50h-5M31.90 192.08h2.7M190.80 192.08h-2.7" stroke="#000" stroke-width="1.1" fill="none"/><circle cx="41.47" cy="209.50" r="2.10" fill="none" stroke="#ff0000" stroke-width="1.1"/><rect x="39.27" y="206.30" width="4.40" height="4.40" fill="none" stroke="#00a000" stroke-width="1.1"/><path d="M41.47 205.80L43.37 208.50L41.47 211.20L39.57 208.50Z" fill="none" stroke="#0000ff" stroke-width="1.1"/><path d="M40.62 207.15H42.32V208.65H43.82V210.35H42.32V211.85H40.62V210.35H39.12V208.65H40.62Z" fill="none" stroke="#ff00ff" stroke-width="1.1"/><rect x="38.87" y="206.60" width="5.20" height="5.20" fill="#000000"/><circle cx="60.62" cy="222.00" r="2.10" fill="none" stroke="#ff0000" stroke-width="1.1"/><rect x="58.42" y="217.80" width="4.40" height="4.40" fill="none" stroke="#00a000" stroke-width="1.1"/><path d="M60.62 216.80L62.52 219.50L60.62 222.20L58.72 219.50Z" fill="none" stroke="#0000ff" stroke-width="1.1"/><path d="M59.77 214.65H61.47V216.15H62.97V217.85H61.47V219.35H59.77V217.85H58.27V216.15H59.77Z" fill="none" stroke="#ff00ff" stroke-width="1.1"/><rect x="58.02" y="217.60" width="5.20" height="5.20" fill="#000000"/><circle cx="79.76" cy="232.40" r="2.10" fill="none" stroke="#ff0000" stroke-width="1.1"/><rect x="77.56" y="227.30" width="4.40" height="4.40" fill="none" stroke="#00a000" stroke-width="1.1"/><path d="M79.76 226.30L81.66 229.00L79.76 231.70L77.86 229.00Z" fill="none" stroke="#0000ff" stroke-width="1.1"/><path d="M78.91 224.65H80.61V226.15H82.11V227.85H80.61V229.35H78.91V227.85H77.41V226.15H78.91Z" fill="none" stroke="#ff00ff" stroke-width="1.1"/><rect x="77.16" y="227.10" width="5.20" height="5.20" fill="#000000"/><circle cx="98.91" cy="240.50" r="2.10" fill="none" stroke="#ff0000" stroke-width="1.1"/><rect x="96.71" y="236.30" width="4.40" height="4.40" fill="none" stroke="#00a000" stroke-width="1.1"/><path d="M98.91 235.30L100.81 238.00L98.91 240.70L97.01 238.00Z" fill="none" stroke="#0000ff" stroke-width="1.1"/><path d="M98.06 233.65H99.76V235.15H101.26V236.85H99.76V238.35H98.06V236.85H96.56V235.15H98.06Z" fill="none" stroke="#ff00ff" stroke-width="1.1"/><rect x="96.31" y="236.00" width="5.20" height="5.20" fill="#000000"/><circle cx="118.05" cy="251.70" r="2.10" fill="none" stroke="#ff0000" stroke-width="1.1"/><rect x="115.85" y="247.30" width="4.40" height="4.40" fill="none" stroke="#00a000" stroke-width="1.1"/><path d="M118.05 246.30L119.95 249.00L118.05 251.70L116.15 249.00Z" fill="none" stroke="#0000ff" stroke-width="1.1"/><path d="M117.20 243.65H118.90V245.15H120.40V246.85H118.90V248.35H117.20V246.85H115.70V245.15H117.20Z" fill="none" stroke="#ff00ff" stroke-width="1.1"/><rect x="115.45" y="247.40" width="5.20" height="5.20" fill="#000000"/><circle cx="137.20" cy="263.00" r="2.10" fill="none" stroke="#ff0000" stroke-width="1.1"/><rect x="135.00" y="257.30" width="4.40" height="4.40" fill="none" stroke="#00a000" stroke-width="1.1"/><path d="M137.20 256.30L139.10 259.00L137.20 261.70L135.30 259.00Z" fill="none" stroke="#0000ff" stroke-width="1.1"/><path d="M136.35 255.35H138.05V256.85H139.55V258.55H138.05V260.05H136.35V258.55H134.85V256.85H136.35Z" fill="none" stroke="#ff00ff" stroke-width="1.1"/><rect x="134.60" y="258.20" width="5.20" height="5.20" fill="#000000"/><circle cx="156.34" cy="273.50" r="2.10" fill="none" stroke="#ff0000" stroke-width="1.1"/><rect x="154.14" y="268.80" width="4.40" height="4.40" fill="none" stroke="#00a000" stroke-width="1.1"/><path d="M156.34 267.40L158.24 270.10L156.34 272.80L154.44 270.10Z" fill="none" stroke="#0000ff" stroke-width="1.1"/><path d="M155.49 271.35H157.19V272.85H158.69V274.55H157.19V276.05H155.49V274.55H153.99V272.85H155.49Z" fill="none" stroke="#ff00ff" stroke-width="1.1"/><rect x="153.74" y="270.40" width="5.20" height="5.20" fill="#000000"/><circle cx="175.48" cy="286.00" r="2.10" fill="none" stroke="#ff0000" stroke-width="1.1"/><rect x="173.28" y="280.80" width="4.40" height="4.40" fill="none" stroke="#00a000" stroke-width="1.1"/><path d="M175.48 283.10L177.38 285.80L175.48 288.50L173.58 285.80Z" fill="none" stroke="#0000ff" stroke-width="1.1"/><path d="M174.63 292.95H176.33V294.45H177.83V296.15H176.33V297.65H174.63V296.15H173.13V294.45H174.63Z" fill="none" stroke="#ff00ff" stroke-width="1.1"/><rect x="172.88" y="283.30" width="5.20" height="5.20" fill="#000000"/><rect x="31.90" y="179.60" width="158.90" height="174.40" fill="none" stroke="#000" stroke-width="1.4"/><text transform="matrix(1 0 0 1.03 0 -5.940)" x="35.20" y="198.0" font-size="9.25" font-weight="bold" font-style="italic" fill="#000">ATLAS</text><text transform="matrix(1 0 0 1.03 0 -5.940)" x="81.30" y="198.0" font-size="9.8" fill="#222">Pb+Pb 5.02 TeV, 22 μb<tspan font-size="6.5" dy="-4.2">-1</tspan></text><text transform="matrix(1 0 0 1.03 0 -8.337)" x="61.60" y="277.9" font-size="9.6" fill="#1a1a1a">20-30%</text><line x1="44.00" y1="288.20" x2="59.30" y2="288.20" stroke="#ff0000" stroke-width="1.8"/><circle cx="51.60" cy="288.20" r="2.10" fill="none" stroke="#ff0000" stroke-width="1.1"/><text transform="matrix(1 0 0 1.03 0 -8.730)" x="61.80" y="291.00" font-size="9.7" fill="#1a1a1a">4.4&lt;</text><path d="M84.80 284.10V292.90M97.10 284.10V292.90" stroke="#2a2a2a" stroke-width="1.1"/><text x="86.30" y="289.80" font-size="8.8" fill="#333" transform="translate(86.30 0) scale(0.78 1) translate(-86.30 0)">η</text><text x="90.10" y="293.10" font-size="5.4" fill="#444" style="stroke:none">ref</text><text transform="matrix(1 0 0 1.03 0 -8.730)" x="100.40" y="291.00" font-size="9.7" fill="#1a1a1a">&lt;4.9</text><line x1="44.00" y1="301.30" x2="59.30" y2="301.30" stroke="#00a000" stroke-width="1.8"/><rect x="49.40" y="299.10" width="4.40" height="4.40" fill="none" stroke="#00a000" stroke-width="1.1"/><text transform="matrix(1 0 0 1.03 0 -9.123)" x="61.80" y="304.10" font-size="9.7" fill="#1a1a1a">4.0&lt;</text><path d="M84.80 297.20V306.00M97.10 297.20V306.00" stroke="#2a2a2a" stroke-width="1.1"/><text x="86.30" y="302.90" font-size="8.8" fill="#333" transform="translate(86.30 0) scale(0.78 1) translate(-86.30 0)">η</text><text x="90.10" y="306.20" font-size="5.4" fill="#444" style="stroke:none">ref</text><text transform="matrix(1 0 0 1.03 0 -9.123)" x="100.40" y="304.10" font-size="9.7" fill="#1a1a1a">&lt;4.4</text><line x1="44.00" y1="314.40" x2="59.30" y2="314.40" stroke="#0000ff" stroke-width="1.8"/><path d="M51.60 311.70L53.50 314.40L51.60 317.10L49.70 314.40Z" fill="none" stroke="#0000ff" stroke-width="1.1"/><text transform="matrix(1 0 0 1.03 0 -9.516)" x="61.80" y="317.20" font-size="9.7" fill="#1a1a1a">3.6&lt;</text><path d="M84.80 310.30V319.10M97.10 310.30V319.10" stroke="#2a2a2a" stroke-width="1.1"/><text x="86.30" y="316.00" font-size="8.8" fill="#333" transform="translate(86.30 0) scale(0.78 1) translate(-86.30 0)">η</text><text x="90.10" y="319.30" font-size="5.4" fill="#444" style="stroke:none">ref</text><text transform="matrix(1 0 0 1.03 0 -9.516)" x="100.40" y="317.20" font-size="9.7" fill="#1a1a1a">&lt;4.0</text><line x1="44.00" y1="327.50" x2="59.30" y2="327.50" stroke="#ff00ff" stroke-width="1.8"/><path d="M50.75 325.15H52.45V326.65H53.95V328.35H52.45V329.85H50.75V328.35H49.25V326.65H50.75Z" fill="none" stroke="#ff00ff" stroke-width="1.1"/><text transform="matrix(1 0 0 1.03 0 -9.909)" x="61.80" y="330.30" font-size="9.7" fill="#1a1a1a">3.2&lt;</text><path d="M84.80 323.40V332.20M97.10 323.40V332.20" stroke="#2a2a2a" stroke-width="1.1"/><text x="86.30" y="329.10" font-size="8.8" fill="#333" transform="translate(86.30 0) scale(0.78 1) translate(-86.30 0)">η</text><text x="90.10" y="332.40" font-size="5.4" fill="#444" style="stroke:none">ref</text><text transform="matrix(1 0 0 1.03 0 -9.909)" x="100.40" y="330.30" font-size="9.7" fill="#1a1a1a">&lt;3.6</text><line x1="44.00" y1="340.60" x2="59.30" y2="340.60" stroke="#000000" stroke-width="1.8"/><rect x="49.00" y="338.00" width="5.20" height="5.20" fill="#000000"/><text transform="matrix(1 0 0 1.03 0 -10.302)" x="61.80" y="343.40" font-size="9.7" fill="#1a1a1a">4.0&lt;</text><path d="M84.80 336.50V345.30M97.10 336.50V345.30" stroke="#2a2a2a" stroke-width="1.1"/><text x="86.30" y="342.20" font-size="8.8" fill="#333" transform="translate(86.30 0) scale(0.78 1) translate(-86.30 0)">η</text><text x="90.10" y="345.50" font-size="5.4" fill="#444" style="stroke:none">ref</text><text transform="matrix(1 0 0 1.03 0 -10.302)" x="100.40" y="343.40" font-size="9.7" fill="#1a1a1a">&lt;4.9</text></g>
<g><line x1="197.30" y1="204.50" x2="354.30" y2="204.50" stroke="#000" stroke-width="1.15" stroke-dasharray="1.45 2.18" stroke-dashoffset="0.2"/><path d="M197.30 354.00v-5M197.30 179.60v5M203.61 354.00v-2.7M203.61 179.60v2.7M209.91 354.00v-2.7M209.91 179.60v2.7M216.22 354.00v-2.7M216.22 179.60v2.7M222.52 354.00v-2.7M222.52 179.60v2.7M228.83 354.00v-5M228.83 179.60v5M235.13 354.00v-2.7M235.13 179.60v2.7M241.44 354.00v-2.7M241.44 179.60v2.7M247.74 354.00v-2.7M247.74 179.60v2.7M254.05 354.00v-2.7M254.05 179.60v2.7M260.35 354.00v-5M260.35 179.60v5M266.66 354.00v-2.7M266.66 179.60v2.7M272.96 354.00v-2.7M272.96 179.60v2.7M279.27 354.00v-2.7M279.27 179.60v2.7M285.57 354.00v-2.7M285.57 179.60v2.7M291.88 354.00v-5M291.88 179.60v5M298.18 354.00v-2.7M298.18 179.60v2.7M304.49 354.00v-2.7M304.49 179.60v2.7M310.79 354.00v-2.7M310.79 179.60v2.7M317.10 354.00v-2.7M317.10 179.60v2.7M323.40 354.00v-5M323.40 179.60v5M329.71 354.00v-2.7M329.71 179.60v2.7M336.01 354.00v-2.7M336.01 179.60v2.7M342.32 354.00v-2.7M342.32 179.60v2.7M348.63 354.00v-2.7M348.63 179.60v2.7M197.30 341.12h2.7M354.30 341.12h-2.7M197.30 328.70h5M354.30 328.70h-5M197.30 316.28h2.7M354.30 316.28h-2.7M197.30 303.86h2.7M354.30 303.86h-2.7M197.30 291.44h2.7M354.30 291.44h-2.7M197.30 279.02h2.7M354.30 279.02h-2.7M197.30 266.60h5M354.30 266.60h-5M197.30 254.18h2.7M354.30 254.18h-2.7M197.30 241.76h2.7M354.30 241.76h-2.7M197.30 229.34h2.7M354.30 229.34h-2.7M197.30 216.92h2.7M354.30 216.92h-2.7M197.30 204.50h5M354.30 204.50h-5M197.30 192.08h2.7M354.30 192.08h-2.7" stroke="#000" stroke-width="1.1" fill="none"/><circle cx="206.76" cy="211.00" r="2.10" fill="none" stroke="#ff0000" stroke-width="1.1"/><rect x="204.56" y="206.80" width="4.40" height="4.40" fill="none" stroke="#00a000" stroke-width="1.1"/><path d="M206.76 205.80L208.66 208.50L206.76 211.20L204.86 208.50Z" fill="none" stroke="#0000ff" stroke-width="1.1"/><path d="M205.91 206.25H207.61V207.75H209.11V209.45H207.61V210.95H205.91V209.45H204.41V207.75H205.91Z" fill="none" stroke="#ff00ff" stroke-width="1.1"/><rect x="204.16" y="207.60" width="5.20" height="5.20" fill="#000000"/><circle cx="225.67" cy="219.50" r="2.10" fill="none" stroke="#ff0000" stroke-width="1.1"/><rect x="223.47" y="217.30" width="4.40" height="4.40" fill="none" stroke="#00a000" stroke-width="1.1"/><path d="M225.67 215.80L227.57 218.50L225.67 221.20L223.77 218.50Z" fill="none" stroke="#0000ff" stroke-width="1.1"/><path d="M224.82 214.65H226.52V216.15H228.02V217.85H226.52V219.35H224.82V217.85H223.32V216.15H224.82Z" fill="none" stroke="#ff00ff" stroke-width="1.1"/><rect x="223.07" y="217.00" width="5.20" height="5.20" fill="#000000"/><circle cx="244.59" cy="229.60" r="2.10" fill="none" stroke="#ff0000" stroke-width="1.1"/><rect x="242.39" y="226.30" width="4.40" height="4.40" fill="none" stroke="#00a000" stroke-width="1.1"/><path d="M244.59 225.30L246.49 228.00L244.59 230.70L242.69 228.00Z" fill="none" stroke="#0000ff" stroke-width="1.1"/><path d="M243.74 223.25H245.44V224.75H246.94V226.45H245.44V227.95H243.74V226.45H242.24V224.75H243.74Z" fill="none" stroke="#ff00ff" stroke-width="1.1"/><rect x="241.99" y="226.70" width="5.20" height="5.20" fill="#000000"/><circle cx="263.50" cy="239.70" r="2.10" fill="none" stroke="#ff0000" stroke-width="1.1"/><rect x="261.30" y="234.80" width="4.40" height="4.40" fill="none" stroke="#00a000" stroke-width="1.1"/><path d="M263.50 233.80L265.40 236.50L263.50 239.20L261.60 236.50Z" fill="none" stroke="#0000ff" stroke-width="1.1"/><path d="M262.65 232.45H264.35V233.95H265.85V235.65H264.35V237.15H262.65V235.65H261.15V233.95H262.65Z" fill="none" stroke="#ff00ff" stroke-width="1.1"/><rect x="260.90" y="235.10" width="5.20" height="5.20" fill="#000000"/><circle cx="282.42" cy="253.40" r="2.10" fill="none" stroke="#ff0000" stroke-width="1.1"/><rect x="280.22" y="246.80" width="4.40" height="4.40" fill="none" stroke="#00a000" stroke-width="1.1"/><path d="M282.42 245.30L284.32 248.00L282.42 250.70L280.52 248.00Z" fill="none" stroke="#0000ff" stroke-width="1.1"/><path d="M281.57 242.65H283.27V244.15H284.77V245.85H283.27V247.35H281.57V245.85H280.07V244.15H281.57Z" fill="none" stroke="#ff00ff" stroke-width="1.1"/><rect x="279.82" y="247.40" width="5.20" height="5.20" fill="#000000"/><circle cx="301.34" cy="265.00" r="2.10" fill="none" stroke="#ff0000" stroke-width="1.1"/><rect x="299.14" y="257.80" width="4.40" height="4.40" fill="none" stroke="#00a000" stroke-width="1.1"/><path d="M301.34 252.50L303.24 255.20L301.34 257.90L299.44 255.20Z" fill="none" stroke="#0000ff" stroke-width="1.1"/><path d="M300.49 255.65H302.19V257.15H303.69V258.85H302.19V260.35H300.49V258.85H298.99V257.15H300.49Z" fill="none" stroke="#ff00ff" stroke-width="1.1"/><rect x="298.74" y="257.90" width="5.20" height="5.20" fill="#000000"/><circle cx="320.25" cy="273.50" r="2.10" fill="none" stroke="#ff0000" stroke-width="1.1"/><rect x="318.05" y="270.30" width="4.40" height="4.40" fill="none" stroke="#00a000" stroke-width="1.1"/><path d="M320.25 269.10L322.15 271.80L320.25 274.50L318.35 271.80Z" fill="none" stroke="#0000ff" stroke-width="1.1"/><path d="M319.40 272.75H321.10V274.25H322.60V275.95H321.10V277.45H319.40V275.95H317.90V274.25H319.40Z" fill="none" stroke="#ff00ff" stroke-width="1.1"/><rect x="317.65" y="271.20" width="5.20" height="5.20" fill="#000000"/><circle cx="339.17" cy="286.00" r="2.10" fill="none" stroke="#ff0000" stroke-width="1.1"/><rect x="336.97" y="281.10" width="4.40" height="4.40" fill="none" stroke="#00a000" stroke-width="1.1"/><path d="M339.17 285.00L341.07 287.70L339.17 290.40L337.27 287.70Z" fill="none" stroke="#0000ff" stroke-width="1.1"/><path d="M338.32 297.45H340.02V298.95H341.52V300.65H340.02V302.15H338.32V300.65H336.82V298.95H338.32Z" fill="none" stroke="#ff00ff" stroke-width="1.1"/><rect x="336.57" y="282.40" width="5.20" height="5.20" fill="#000000"/><rect x="197.30" y="179.60" width="157.00" height="174.40" fill="none" stroke="#000" stroke-width="1.4"/><text transform="matrix(1 0 0 1.03 0 -5.940)" x="201.20" y="198.0" font-size="9.25" font-weight="bold" font-style="italic" fill="#000">ATLAS</text><text transform="matrix(1 0 0 1.03 0 -5.940)" x="241.00" y="198.0" font-size="9.8" fill="#222">Pb+Pb 5.02 TeV, 22 μb<tspan font-size="6.5" dy="-4.2">-1</tspan></text><text transform="matrix(1 0 0 1.03 0 -8.337)" x="224.40" y="277.9" font-size="9.6" fill="#1a1a1a">30-40%</text><line x1="209.30" y1="288.20" x2="222.00" y2="288.20" stroke="#ff0000" stroke-width="1.8"/><circle cx="215.80" cy="288.20" r="2.10" fill="none" stroke="#ff0000" stroke-width="1.1"/><text transform="matrix(1 0 0 1.03 0 -8.730)" x="224.60" y="291.00" font-size="9.7" fill="#1a1a1a">4.4&lt;</text><path d="M247.60 284.10V292.90M259.90 284.10V292.90" stroke="#2a2a2a" stroke-width="1.1"/><text x="249.10" y="289.80" font-size="8.8" fill="#333" transform="translate(249.10 0) scale(0.78 1) translate(-249.10 0)">η</text><text x="252.90" y="293.10" font-size="5.4" fill="#444" style="stroke:none">ref</text><text transform="matrix(1 0 0 1.03 0 -8.730)" x="263.20" y="291.00" font-size="9.7" fill="#1a1a1a">&lt;4.9</text><line x1="209.30" y1="301.30" x2="222.00" y2="301.30" stroke="#00a000" stroke-width="1.8"/><rect x="213.60" y="299.10" width="4.40" height="4.40" fill="none" stroke="#00a000" stroke-width="1.1"/><text transform="matrix(1 0 0 1.03 0 -9.123)" x="224.60" y="304.10" font-size="9.7" fill="#1a1a1a">4.0&lt;</text><path d="M247.60 297.20V306.00M259.90 297.20V306.00" stroke="#2a2a2a" stroke-width="1.1"/><text x="249.10" y="302.90" font-size="8.8" fill="#333" transform="translate(249.10 0) scale(0.78 1) translate(-249.10 0)">η</text><text x="252.90" y="306.20" font-size="5.4" fill="#444" style="stroke:none">ref</text><text transform="matrix(1 0 0 1.03 0 -9.123)" x="263.20" y="304.10" font-size="9.7" fill="#1a1a1a">&lt;4.4</text><line x1="209.30" y1="314.40" x2="222.00" y2="314.40" stroke="#0000ff" stroke-width="1.8"/><path d="M215.80 311.70L217.70 314.40L215.80 317.10L213.90 314.40Z" fill="none" stroke="#0000ff" stroke-width="1.1"/><text transform="matrix(1 0 0 1.03 0 -9.516)" x="224.60" y="317.20" font-size="9.7" fill="#1a1a1a">3.6&lt;</text><path d="M247.60 310.30V319.10M259.90 310.30V319.10" stroke="#2a2a2a" stroke-width="1.1"/><text x="249.10" y="316.00" font-size="8.8" fill="#333" transform="translate(249.10 0) scale(0.78 1) translate(-249.10 0)">η</text><text x="252.90" y="319.30" font-size="5.4" fill="#444" style="stroke:none">ref</text><text transform="matrix(1 0 0 1.03 0 -9.516)" x="263.20" y="317.20" font-size="9.7" fill="#1a1a1a">&lt;4.0</text><line x1="209.30" y1="327.50" x2="222.00" y2="327.50" stroke="#ff00ff" stroke-width="1.8"/><path d="M214.95 325.15H216.65V326.65H218.15V328.35H216.65V329.85H214.95V328.35H213.45V326.65H214.95Z" fill="none" stroke="#ff00ff" stroke-width="1.1"/><text transform="matrix(1 0 0 1.03 0 -9.909)" x="224.60" y="330.30" font-size="9.7" fill="#1a1a1a">3.2&lt;</text><path d="M247.60 323.40V332.20M259.90 323.40V332.20" stroke="#2a2a2a" stroke-width="1.1"/><text x="249.10" y="329.10" font-size="8.8" fill="#333" transform="translate(249.10 0) scale(0.78 1) translate(-249.10 0)">η</text><text x="252.90" y="332.40" font-size="5.4" fill="#444" style="stroke:none">ref</text><text transform="matrix(1 0 0 1.03 0 -9.909)" x="263.20" y="330.30" font-size="9.7" fill="#1a1a1a">&lt;3.6</text><line x1="209.30" y1="340.60" x2="222.00" y2="340.60" stroke="#000000" stroke-width="1.8"/><rect x="213.20" y="338.00" width="5.20" height="5.20" fill="#000000"/><text transform="matrix(1 0 0 1.03 0 -10.302)" x="224.60" y="343.40" font-size="9.7" fill="#1a1a1a">4.0&lt;</text><path d="M247.60 336.50V345.30M259.90 336.50V345.30" stroke="#2a2a2a" stroke-width="1.1"/><text x="249.10" y="342.20" font-size="8.8" fill="#333" transform="translate(249.10 0) scale(0.78 1) translate(-249.10 0)">η</text><text x="252.90" y="345.50" font-size="5.4" fill="#444" style="stroke:none">ref</text><text transform="matrix(1 0 0 1.03 0 -10.302)" x="263.20" y="343.40" font-size="9.7" fill="#1a1a1a">&lt;4.9</text></g>
<g><line x1="360.60" y1="204.50" x2="517.70" y2="204.50" stroke="#000" stroke-width="1.15" stroke-dasharray="1.45 2.18" stroke-dashoffset="0.2"/><path d="M360.60 354.00v-5M360.60 179.60v5M366.91 354.00v-2.7M366.91 179.60v2.7M373.22 354.00v-2.7M373.22 179.60v2.7M379.53 354.00v-2.7M379.53 179.60v2.7M385.84 354.00v-2.7M385.84 179.60v2.7M392.15 354.00v-5M392.15 179.60v5M398.46 354.00v-2.7M398.46 179.60v2.7M404.76 354.00v-2.7M404.76 179.60v2.7M411.07 354.00v-2.7M411.07 179.60v2.7M417.38 354.00v-2.7M417.38 179.60v2.7M423.69 354.00v-5M423.69 179.60v5M430.00 354.00v-2.7M430.00 179.60v2.7M436.31 354.00v-2.7M436.31 179.60v2.7M442.62 354.00v-2.7M442.62 179.60v2.7M448.93 354.00v-2.7M448.93 179.60v2.7M455.24 354.00v-5M455.24 179.60v5M461.55 354.00v-2.7M461.55 179.60v2.7M467.86 354.00v-2.7M467.86 179.60v2.7M474.17 354.00v-2.7M474.17 179.60v2.7M480.48 354.00v-2.7M480.48 179.60v2.7M486.78 354.00v-5M486.78 179.60v5M493.09 354.00v-2.7M493.09 179.60v2.7M499.40 354.00v-2.7M499.40 179.60v2.7M505.71 354.00v-2.7M505.71 179.60v2.7M512.02 354.00v-2.7M512.02 179.60v2.7M360.60 341.12h2.7M517.70 341.12h-2.7M360.60 328.70h5M517.70 328.70h-5M360.60 316.28h2.7M517.70 316.28h-2.7M360.60 303.86h2.7M517.70 303.86h-2.7M360.60 291.44h2.7M517.70 291.44h-2.7M360.60 279.02h2.7M517.70 279.02h-2.7M360.60 266.60h5M517.70 266.60h-5M360.60 254.18h2.7M517.70 254.18h-2.7M360.60 241.76h2.7M517.70 241.76h-2.7M360.60 229.34h2.7M517.70 229.34h-2.7M360.60 216.92h2.7M517.70 216.92h-2.7M360.60 204.50h5M517.70 204.50h-5M360.60 192.08h2.7M517.70 192.08h-2.7" stroke="#000" stroke-width="1.1" fill="none"/><circle cx="370.06" cy="206.50" r="2.10" fill="none" stroke="#ff0000" stroke-width="1.1"/><rect x="367.86" y="203.30" width="4.40" height="4.40" fill="none" stroke="#00a000" stroke-width="1.1"/><path d="M370.06 206.30L371.96 209.00L370.06 211.70L368.16 209.00Z" fill="none" stroke="#0000ff" stroke-width="1.1"/><path d="M369.21 203.65H370.91V205.15H372.41V206.85H370.91V208.35H369.21V206.85H367.71V205.15H369.21Z" fill="none" stroke="#ff00ff" stroke-width="1.1"/><rect x="367.46" y="203.40" width="5.20" height="5.20" fill="#000000"/><circle cx="388.99" cy="219.90" r="2.10" fill="none" stroke="#ff0000" stroke-width="1.1"/><rect x="386.79" y="215.80" width="4.40" height="4.40" fill="none" stroke="#00a000" stroke-width="1.1"/><path d="M388.99 214.80L390.89 217.50L388.99 220.20L387.09 217.50Z" fill="none" stroke="#0000ff" stroke-width="1.1"/><path d="M388.14 215.35H389.84V216.85H391.34V218.55H389.84V220.05H388.14V218.55H386.64V216.85H388.14Z" fill="none" stroke="#ff00ff" stroke-width="1.1"/><rect x="386.39" y="215.80" width="5.20" height="5.20" fill="#000000"/><circle cx="407.92" cy="232.00" r="2.10" fill="none" stroke="#ff0000" stroke-width="1.1"/><rect x="405.72" y="226.30" width="4.40" height="4.40" fill="none" stroke="#00a000" stroke-width="1.1"/><path d="M407.92 225.30L409.82 228.00L407.92 230.70L406.02 228.00Z" fill="none" stroke="#0000ff" stroke-width="1.1"/><path d="M407.07 223.85H408.77V225.35H410.27V227.05H408.77V228.55H407.07V227.05H405.57V225.35H407.07Z" fill="none" stroke="#ff00ff" stroke-width="1.1"/><rect x="405.32" y="226.30" width="5.20" height="5.20" fill="#000000"/><circle cx="426.85" cy="242.00" r="2.10" fill="none" stroke="#ff0000" stroke-width="1.1"/><rect x="424.65" y="237.80" width="4.40" height="4.40" fill="none" stroke="#00a000" stroke-width="1.1"/><path d="M426.85 236.30L428.75 239.00L426.85 241.70L424.95 239.00Z" fill="none" stroke="#0000ff" stroke-width="1.1"/><path d="M426.00 234.25H427.70V235.75H429.20V237.45H427.70V238.95H426.00V237.45H424.50V235.75H426.00Z" fill="none" stroke="#ff00ff" stroke-width="1.1"/><rect x="424.25" y="238.10" width="5.20" height="5.20" fill="#000000"/><circle cx="445.77" cy="252.00" r="2.10" fill="none" stroke="#ff0000" stroke-width="1.1"/><rect x="443.57" y="245.80" width="4.40" height="4.40" fill="none" stroke="#00a000" stroke-width="1.1"/><path d="M445.77 244.80L447.67 247.50L445.77 250.20L443.87 247.50Z" fill="none" stroke="#0000ff" stroke-width="1.1"/><path d="M444.92 242.15H446.62V243.65H448.12V245.35H446.62V246.85H444.92V245.35H443.42V243.65H444.92Z" fill="none" stroke="#ff00ff" stroke-width="1.1"/><rect x="443.17" y="246.00" width="5.20" height="5.20" fill="#000000"/><circle cx="464.70" cy="263.50" r="2.10" fill="none" stroke="#ff0000" stroke-width="1.1"/><rect x="462.50" y="258.30" width="4.40" height="4.40" fill="none" stroke="#00a000" stroke-width="1.1"/><path d="M464.70 256.50L466.60 259.20L464.70 261.90L462.80 259.20Z" fill="none" stroke="#0000ff" stroke-width="1.1"/><path d="M463.85 258.15H465.55V259.65H467.05V261.35H465.55V262.85H463.85V261.35H462.35V259.65H463.85Z" fill="none" stroke="#ff00ff" stroke-width="1.1"/><rect x="462.10" y="258.90" width="5.20" height="5.20" fill="#000000"/><circle cx="483.63" cy="275.00" r="2.10" fill="none" stroke="#ff0000" stroke-width="1.1"/><rect x="481.43" y="271.80" width="4.40" height="4.40" fill="none" stroke="#00a000" stroke-width="1.1"/><path d="M483.63 270.40L485.53 273.10L483.63 275.80L481.73 273.10Z" fill="none" stroke="#0000ff" stroke-width="1.1"/><path d="M482.78 276.15H484.48V277.65H485.98V279.35H484.48V280.85H482.78V279.35H481.28V277.65H482.78Z" fill="none" stroke="#ff00ff" stroke-width="1.1"/><rect x="481.03" y="272.20" width="5.20" height="5.20" fill="#000000"/><circle cx="502.56" cy="287.00" r="2.10" fill="none" stroke="#ff0000" stroke-width="1.1"/><rect x="500.36" y="281.80" width="4.40" height="4.40" fill="none" stroke="#00a000" stroke-width="1.1"/><path d="M502.56 287.00L504.46 289.70L502.56 292.40L500.66 289.70Z" fill="none" stroke="#0000ff" stroke-width="1.1"/><path d="M501.71 306.95H503.41V308.45H504.91V310.15H503.41V311.65H501.71V310.15H500.21V308.45H501.71Z" fill="none" stroke="#ff00ff" stroke-width="1.1"/><rect x="499.96" y="282.50" width="5.20" height="5.20" fill="#000000"/><rect x="360.60" y="179.60" width="157.10" height="174.40" fill="none" stroke="#000" stroke-width="1.4"/><text transform="matrix(1 0 0 1.03 0 -5.940)" x="364.60" y="198.0" font-size="9.25" font-weight="bold" font-style="italic" fill="#000">ATLAS</text><text transform="matrix(1 0 0 1.03 0 -5.940)" x="405.30" y="198.0" font-size="9.8" fill="#222">Pb+Pb 5.02 TeV, 22 μb<tspan font-size="6.5" dy="-4.2">-1</tspan></text><text transform="matrix(1 0 0 1.03 0 -8.337)" x="388.00" y="277.9" font-size="9.6" fill="#1a1a1a">40-50%</text><line x1="372.30" y1="288.20" x2="385.70" y2="288.20" stroke="#ff0000" stroke-width="1.8"/><circle cx="379.00" cy="288.20" r="2.10" fill="none" stroke="#ff0000" stroke-width="1.1"/><text transform="matrix(1 0 0 1.03 0 -8.730)" x="388.20" y="291.00" font-size="9.7" fill="#1a1a1a">4.4&lt;</text><path d="M411.20 284.10V292.90M423.50 284.10V292.90" stroke="#2a2a2a" stroke-width="1.1"/><text x="412.70" y="289.80" font-size="8.8" fill="#333" transform="translate(412.70 0) scale(0.78 1) translate(-412.70 0)">η</text><text x="416.50" y="293.10" font-size="5.4" fill="#444" style="stroke:none">ref</text><text transform="matrix(1 0 0 1.03 0 -8.730)" x="426.80" y="291.00" font-size="9.7" fill="#1a1a1a">&lt;4.9</text><line x1="372.30" y1="301.30" x2="385.70" y2="301.30" stroke="#00a000" stroke-width="1.8"/><rect x="376.80" y="299.10" width="4.40" height="4.40" fill="none" stroke="#00a000" stroke-width="1.1"/><text transform="matrix(1 0 0 1.03 0 -9.123)" x="388.20" y="304.10" font-size="9.7" fill="#1a1a1a">4.0&lt;</text><path d="M411.20 297.20V306.00M423.50 297.20V306.00" stroke="#2a2a2a" stroke-width="1.1"/><text x="412.70" y="302.90" font-size="8.8" fill="#333" transform="translate(412.70 0) scale(0.78 1) translate(-412.70 0)">η</text><text x="416.50" y="306.20" font-size="5.4" fill="#444" style="stroke:none">ref</text><text transform="matrix(1 0 0 1.03 0 -9.123)" x="426.80" y="304.10" font-size="9.7" fill="#1a1a1a">&lt;4.4</text><line x1="372.30" y1="314.40" x2="385.70" y2="314.40" stroke="#0000ff" stroke-width="1.8"/><path d="M379.00 311.70L380.90 314.40L379.00 317.10L377.10 314.40Z" fill="none" stroke="#0000ff" stroke-width="1.1"/><text transform="matrix(1 0 0 1.03 0 -9.516)" x="388.20" y="317.20" font-size="9.7" fill="#1a1a1a">3.6&lt;</text><path d="M411.20 310.30V319.10M423.50 310.30V319.10" stroke="#2a2a2a" stroke-width="1.1"/><text x="412.70" y="316.00" font-size="8.8" fill="#333" transform="translate(412.70 0) scale(0.78 1) translate(-412.70 0)">η</text><text x="416.50" y="319.30" font-size="5.4" fill="#444" style="stroke:none">ref</text><text transform="matrix(1 0 0 1.03 0 -9.516)" x="426.80" y="317.20" font-size="9.7" fill="#1a1a1a">&lt;4.0</text><line x1="372.30" y1="327.50" x2="385.70" y2="327.50" stroke="#ff00ff" stroke-width="1.8"/><path d="M378.15 325.15H379.85V326.65H381.35V328.35H379.85V329.85H378.15V328.35H376.65V326.65H378.15Z" fill="none" stroke="#ff00ff" stroke-width="1.1"/><text transform="matrix(1 0 0 1.03 0 -9.909)" x="388.20" y="330.30" font-size="9.7" fill="#1a1a1a">3.2&lt;</text><path d="M411.20 323.40V332.20M423.50 323.40V332.20" stroke="#2a2a2a" stroke-width="1.1"/><text x="412.70" y="329.10" font-size="8.8" fill="#333" transform="translate(412.70 0) scale(0.78 1) translate(-412.70 0)">η</text><text x="416.50" y="332.40" font-size="5.4" fill="#444" style="stroke:none">ref</text><text transform="matrix(1 0 0 1.03 0 -9.909)" x="426.80" y="330.30" font-size="9.7" fill="#1a1a1a">&lt;3.6</text><line x1="372.30" y1="340.60" x2="385.70" y2="340.60" stroke="#000000" stroke-width="1.8"/><rect x="376.40" y="338.00" width="5.20" height="5.20" fill="#000000"/><text transform="matrix(1 0 0 1.03 0 -10.302)" x="388.20" y="343.40" font-size="9.7" fill="#1a1a1a">4.0&lt;</text><path d="M411.20 336.50V345.30M423.50 336.50V345.30" stroke="#2a2a2a" stroke-width="1.1"/><text x="412.70" y="342.20" font-size="8.8" fill="#333" transform="translate(412.70 0) scale(0.78 1) translate(-412.70 0)">η</text><text x="416.50" y="345.50" font-size="5.4" fill="#444" style="stroke:none">ref</text><text transform="matrix(1 0 0 1.03 0 -10.302)" x="426.80" y="343.40" font-size="9.7" fill="#1a1a1a">&lt;4.9</text></g>
<g><line x1="524.00" y1="204.50" x2="681.50" y2="204.50" stroke="#000" stroke-width="1.15" stroke-dasharray="1.45 2.18" stroke-dashoffset="0.2"/><path d="M524.00 354.00v-5M524.00 179.60v5M530.33 354.00v-2.7M530.33 179.60v2.7M536.65 354.00v-2.7M536.65 179.60v2.7M542.98 354.00v-2.7M542.98 179.60v2.7M549.30 354.00v-2.7M549.30 179.60v2.7M555.63 354.00v-5M555.63 179.60v5M561.95 354.00v-2.7M561.95 179.60v2.7M568.28 354.00v-2.7M568.28 179.60v2.7M574.60 354.00v-2.7M574.60 179.60v2.7M580.93 354.00v-2.7M580.93 179.60v2.7M587.25 354.00v-5M587.25 179.60v5M593.58 354.00v-2.7M593.58 179.60v2.7M599.90 354.00v-2.7M599.90 179.60v2.7M606.23 354.00v-2.7M606.23 179.60v2.7M612.55 354.00v-2.7M612.55 179.60v2.7M618.88 354.00v-5M618.88 179.60v5M625.20 354.00v-2.7M625.20 179.60v2.7M631.53 354.00v-2.7M631.53 179.60v2.7M637.86 354.00v-2.7M637.86 179.60v2.7M644.18 354.00v-2.7M644.18 179.60v2.7M650.51 354.00v-5M650.51 179.60v5M656.83 354.00v-2.7M656.83 179.60v2.7M663.16 354.00v-2.7M663.16 179.60v2.7M669.48 354.00v-2.7M669.48 179.60v2.7M675.81 354.00v-2.7M675.81 179.60v2.7M524.00 341.12h2.7M681.50 341.12h-2.7M524.00 328.70h5M681.50 328.70h-5M524.00 316.28h2.7M681.50 316.28h-2.7M524.00 303.86h2.7M681.50 303.86h-2.7M524.00 291.44h2.7M681.50 291.44h-2.7M524.00 279.02h2.7M681.50 279.02h-2.7M524.00 266.60h5M681.50 266.60h-5M524.00 254.18h2.7M681.50 254.18h-2.7M524.00 241.76h2.7M681.50 241.76h-2.7M524.00 229.34h2.7M681.50 229.34h-2.7M524.00 216.92h2.7M681.50 216.92h-2.7M524.00 204.50h5M681.50 204.50h-5M524.00 192.08h2.7M681.50 192.08h-2.7" stroke="#000" stroke-width="1.1" fill="none"/><line x1="533.49" y1="207.60" x2="533.49" y2="214.40" stroke="#ff0000" stroke-width="1.1"/><circle cx="533.49" cy="211.00" r="2.10" fill="none" stroke="#ff0000" stroke-width="1.1"/><line x1="533.49" y1="206.10" x2="533.49" y2="212.90" stroke="#00a000" stroke-width="1.1"/><rect x="531.29" y="207.30" width="4.40" height="4.40" fill="none" stroke="#00a000" stroke-width="1.1"/><line x1="533.49" y1="206.10" x2="533.49" y2="212.90" stroke="#0000ff" stroke-width="1.1"/><path d="M533.49 206.80L535.39 209.50L533.49 212.20L531.59 209.50Z" fill="none" stroke="#0000ff" stroke-width="1.1"/><line x1="533.49" y1="208.20" x2="533.49" y2="215.00" stroke="#ff00ff" stroke-width="1.1"/><path d="M532.64 209.25H534.34V210.75H535.84V212.45H534.34V213.95H532.64V212.45H531.14V210.75H532.64Z" fill="none" stroke="#ff00ff" stroke-width="1.1"/><line x1="533.49" y1="207.30" x2="533.49" y2="214.10" stroke="#000000" stroke-width="1.1"/><rect x="530.89" y="208.10" width="5.20" height="5.20" fill="#000000"/><line x1="552.46" y1="212.10" x2="552.46" y2="218.90" stroke="#ff0000" stroke-width="1.1"/><circle cx="552.46" cy="215.50" r="2.10" fill="none" stroke="#ff0000" stroke-width="1.1"/><line x1="552.46" y1="217.90" x2="552.46" y2="224.70" stroke="#00a000" stroke-width="1.1"/><rect x="550.26" y="219.10" width="4.40" height="4.40" fill="none" stroke="#00a000" stroke-width="1.1"/><line x1="552.46" y1="215.60" x2="552.46" y2="222.40" stroke="#0000ff" stroke-width="1.1"/><path d="M552.46 216.30L554.36 219.00L552.46 221.70L550.56 219.00Z" fill="none" stroke="#0000ff" stroke-width="1.1"/><line x1="552.46" y1="209.20" x2="552.46" y2="216.00" stroke="#ff00ff" stroke-width="1.1"/><path d="M551.61 210.25H553.31V211.75H554.81V213.45H553.31V214.95H551.61V213.45H550.11V211.75H551.61Z" fill="none" stroke="#ff00ff" stroke-width="1.1"/><line x1="552.46" y1="217.00" x2="552.46" y2="223.80" stroke="#000000" stroke-width="1.1"/><rect x="549.86" y="217.80" width="5.20" height="5.20" fill="#000000"/><line x1="571.44" y1="224.60" x2="571.44" y2="231.40" stroke="#ff0000" stroke-width="1.1"/><circle cx="571.44" cy="228.00" r="2.10" fill="none" stroke="#ff0000" stroke-width="1.1"/><line x1="571.44" y1="226.00" x2="571.44" y2="232.80" stroke="#00a000" stroke-width="1.1"/><rect x="569.24" y="227.20" width="4.40" height="4.40" fill="none" stroke="#00a000" stroke-width="1.1"/><line x1="571.44" y1="224.60" x2="571.44" y2="231.40" stroke="#0000ff" stroke-width="1.1"/><path d="M571.44 225.30L573.34 228.00L571.44 230.70L569.54 228.00Z" fill="none" stroke="#0000ff" stroke-width="1.1"/><line x1="571.44" y1="223.00" x2="571.44" y2="229.80" stroke="#ff00ff" stroke-width="1.1"/><path d="M570.59 224.05H572.29V225.55H573.79V227.25H572.29V228.75H570.59V227.25H569.09V225.55H570.59Z" fill="none" stroke="#ff00ff" stroke-width="1.1"/><line x1="571.44" y1="225.00" x2="571.44" y2="231.80" stroke="#000000" stroke-width="1.1"/><rect x="568.84" y="225.80" width="5.20" height="5.20" fill="#000000"/><line x1="590.42" y1="231.60" x2="590.42" y2="238.40" stroke="#ff0000" stroke-width="1.1"/><circle cx="590.42" cy="235.00" r="2.10" fill="none" stroke="#ff0000" stroke-width="1.1"/><line x1="590.42" y1="230.30" x2="590.42" y2="237.10" stroke="#00a000" stroke-width="1.1"/><rect x="588.22" y="231.50" width="4.40" height="4.40" fill="none" stroke="#00a000" stroke-width="1.1"/><line x1="590.42" y1="230.60" x2="590.42" y2="237.40" stroke="#0000ff" stroke-width="1.1"/><path d="M590.42 231.30L592.32 234.00L590.42 236.70L588.52 234.00Z" fill="none" stroke="#0000ff" stroke-width="1.1"/><line x1="590.42" y1="235.10" x2="590.42" y2="241.90" stroke="#ff00ff" stroke-width="1.1"/><path d="M589.57 236.15H591.27V237.65H592.77V239.35H591.27V240.85H589.57V239.35H588.07V237.65H589.57Z" fill="none" stroke="#ff00ff" stroke-width="1.1"/><line x1="590.42" y1="231.00" x2="590.42" y2="237.80" stroke="#000000" stroke-width="1.1"/><rect x="587.82" y="231.80" width="5.20" height="5.20" fill="#000000"/><line x1="609.39" y1="246.40" x2="609.39" y2="253.60" stroke="#ff0000" stroke-width="1.1"/><circle cx="609.39" cy="250.00" r="2.10" fill="none" stroke="#ff0000" stroke-width="1.1"/><line x1="609.39" y1="243.40" x2="609.39" y2="250.60" stroke="#00a000" stroke-width="1.1"/><rect x="607.19" y="244.80" width="4.40" height="4.40" fill="none" stroke="#00a000" stroke-width="1.1"/><line x1="609.39" y1="243.30" x2="609.39" y2="250.50" stroke="#0000ff" stroke-width="1.1"/><path d="M609.39 244.20L611.29 246.90L609.39 249.60L607.49 246.90Z" fill="none" stroke="#0000ff" stroke-width="1.1"/><line x1="609.39" y1="251.30" x2="609.39" y2="258.50" stroke="#ff00ff" stroke-width="1.1"/><path d="M608.54 252.55H610.24V254.05H611.74V255.75H610.24V257.25H608.54V255.75H607.04V254.05H608.54Z" fill="none" stroke="#ff00ff" stroke-width="1.1"/><line x1="609.39" y1="244.30" x2="609.39" y2="251.50" stroke="#000000" stroke-width="1.1"/><rect x="606.79" y="245.30" width="5.20" height="5.20" fill="#000000"/><line x1="628.37" y1="263.10" x2="628.37" y2="270.70" stroke="#ff0000" stroke-width="1.1"/><circle cx="628.37" cy="266.90" r="2.10" fill="none" stroke="#ff0000" stroke-width="1.1"/><line x1="628.37" y1="253.90" x2="628.37" y2="261.50" stroke="#00a000" stroke-width="1.1"/><rect x="626.17" y="255.50" width="4.40" height="4.40" fill="none" stroke="#00a000" stroke-width="1.1"/><line x1="628.37" y1="255.20" x2="628.37" y2="262.80" stroke="#0000ff" stroke-width="1.1"/><path d="M628.37 256.30L630.27 259.00L628.37 261.70L626.47 259.00Z" fill="none" stroke="#0000ff" stroke-width="1.1"/><line x1="628.37" y1="259.20" x2="628.37" y2="266.80" stroke="#ff00ff" stroke-width="1.1"/><path d="M627.52 260.65H629.22V262.15H630.72V263.85H629.22V265.35H627.52V263.85H626.02V262.15H627.52Z" fill="none" stroke="#ff00ff" stroke-width="1.1"/><line x1="628.37" y1="257.50" x2="628.37" y2="265.10" stroke="#000000" stroke-width="1.1"/><rect x="625.77" y="258.70" width="5.20" height="5.20" fill="#000000"/><line x1="647.34" y1="265.30" x2="647.34" y2="273.30" stroke="#ff0000" stroke-width="1.1"/><circle cx="647.34" cy="269.30" r="2.10" fill="none" stroke="#ff0000" stroke-width="1.1"/><line x1="647.34" y1="271.00" x2="647.34" y2="279.00" stroke="#00a000" stroke-width="1.1"/><rect x="645.14" y="272.80" width="4.40" height="4.40" fill="none" stroke="#00a000" stroke-width="1.1"/><line x1="647.34" y1="274.50" x2="647.34" y2="282.50" stroke="#0000ff" stroke-width="1.1"/><path d="M647.34 275.80L649.24 278.50L647.34 281.20L645.44 278.50Z" fill="none" stroke="#0000ff" stroke-width="1.1"/><line x1="647.34" y1="278.30" x2="647.34" y2="286.30" stroke="#ff00ff" stroke-width="1.1"/><path d="M646.49 279.95H648.19V281.45H649.69V283.15H648.19V284.65H646.49V283.15H644.99V281.45H646.49Z" fill="none" stroke="#ff00ff" stroke-width="1.1"/><line x1="647.34" y1="269.50" x2="647.34" y2="277.50" stroke="#000000" stroke-width="1.1"/><rect x="644.74" y="270.90" width="5.20" height="5.20" fill="#000000"/><line x1="666.32" y1="285.00" x2="666.32" y2="293.00" stroke="#ff0000" stroke-width="1.1"/><circle cx="666.32" cy="289.00" r="2.10" fill="none" stroke="#ff0000" stroke-width="1.1"/><line x1="666.32" y1="286.00" x2="666.32" y2="294.00" stroke="#00a000" stroke-width="1.1"/><rect x="664.12" y="287.80" width="4.40" height="4.40" fill="none" stroke="#00a000" stroke-width="1.1"/><line x1="666.32" y1="300.40" x2="666.32" y2="308.40" stroke="#0000ff" stroke-width="1.1"/><path d="M666.32 301.70L668.22 304.40L666.32 307.10L664.42 304.40Z" fill="none" stroke="#0000ff" stroke-width="1.1"/><line x1="666.32" y1="328.60" x2="666.32" y2="336.60" stroke="#ff00ff" stroke-width="1.1"/><path d="M665.47 330.25H667.17V331.75H668.67V333.45H667.17V334.95H665.47V333.45H663.97V331.75H665.47Z" fill="none" stroke="#ff00ff" stroke-width="1.1"/><line x1="666.32" y1="285.70" x2="666.32" y2="293.70" stroke="#000000" stroke-width="1.1"/><rect x="663.72" y="287.10" width="5.20" height="5.20" fill="#000000"/><rect x="524.00" y="179.60" width="157.50" height="174.40" fill="none" stroke="#000" stroke-width="1.4"/><text transform="matrix(1 0 0 1.03 0 -5.940)" x="527.90" y="198.0" font-size="9.25" font-weight="bold" font-style="italic" fill="#000">ATLAS</text><text transform="matrix(1 0 0 1.03 0 -5.940)" x="568.10" y="198.0" font-size="9.8" fill="#222">Pb+Pb 5.02 TeV, 22 μb<tspan font-size="6.5" dy="-4.2">-1</tspan></text><text transform="matrix(1 0 0 1.03 0 -8.337)" x="550.70" y="277.9" font-size="9.6" fill="#1a1a1a">50-60%</text><line x1="535.60" y1="288.20" x2="548.60" y2="288.20" stroke="#ff0000" stroke-width="1.8"/><circle cx="542.30" cy="288.20" r="2.10" fill="none" stroke="#ff0000" stroke-width="1.1"/><text transform="matrix(1 0 0 1.03 0 -8.730)" x="550.90" y="291.00" font-size="9.7" fill="#1a1a1a">4.4&lt;</text><path d="M573.90 284.10V292.90M586.20 284.10V292.90" stroke="#2a2a2a" stroke-width="1.1"/><text x="575.40" y="289.80" font-size="8.8" fill="#333" transform="translate(575.40 0) scale(0.78 1) translate(-575.40 0)">η</text><text x="579.20" y="293.10" font-size="5.4" fill="#444" style="stroke:none">ref</text><text transform="matrix(1 0 0 1.03 0 -8.730)" x="589.50" y="291.00" font-size="9.7" fill="#1a1a1a">&lt;4.9</text><line x1="535.60" y1="301.30" x2="548.60" y2="301.30" stroke="#00a000" stroke-width="1.8"/><rect x="540.10" y="299.10" width="4.40" height="4.40" fill="none" stroke="#00a000" stroke-width="1.1"/><text transform="matrix(1 0 0 1.03 0 -9.123)" x="550.90" y="304.10" font-size="9.7" fill="#1a1a1a">4.0&lt;</text><path d="M573.90 297.20V306.00M586.20 297.20V306.00" stroke="#2a2a2a" stroke-width="1.1"/><text x="575.40" y="302.90" font-size="8.8" fill="#333" transform="translate(575.40 0) scale(0.78 1) translate(-575.40 0)">η</text><text x="579.20" y="306.20" font-size="5.4" fill="#444" style="stroke:none">ref</text><text transform="matrix(1 0 0 1.03 0 -9.123)" x="589.50" y="304.10" font-size="9.7" fill="#1a1a1a">&lt;4.4</text><line x1="535.60" y1="314.40" x2="548.60" y2="314.40" stroke="#0000ff" stroke-width="1.8"/><path d="M542.30 311.70L544.20 314.40L542.30 317.10L540.40 314.40Z" fill="none" stroke="#0000ff" stroke-width="1.1"/><text transform="matrix(1 0 0 1.03 0 -9.516)" x="550.90" y="317.20" font-size="9.7" fill="#1a1a1a">3.6&lt;</text><path d="M573.90 310.30V319.10M586.20 310.30V319.10" stroke="#2a2a2a" stroke-width="1.1"/><text x="575.40" y="316.00" font-size="8.8" fill="#333" transform="translate(575.40 0) scale(0.78 1) translate(-575.40 0)">η</text><text x="579.20" y="319.30" font-size="5.4" fill="#444" style="stroke:none">ref</text><text transform="matrix(1 0 0 1.03 0 -9.516)" x="589.50" y="317.20" font-size="9.7" fill="#1a1a1a">&lt;4.0</text><line x1="535.60" y1="327.50" x2="548.60" y2="327.50" stroke="#ff00ff" stroke-width="1.8"/><path d="M541.45 325.15H543.15V326.65H544.65V328.35H543.15V329.85H541.45V328.35H539.95V326.65H541.45Z" fill="none" stroke="#ff00ff" stroke-width="1.1"/><text transform="matrix(1 0 0 1.03 0 -9.909)" x="550.90" y="330.30" font-size="9.7" fill="#1a1a1a">3.2&lt;</text><path d="M573.90 323.40V332.20M586.20 323.40V332.20" stroke="#2a2a2a" stroke-width="1.1"/><text x="575.40" y="329.10" font-size="8.8" fill="#333" transform="translate(575.40 0) scale(0.78 1) translate(-575.40 0)">η</text><text x="579.20" y="332.40" font-size="5.4" fill="#444" style="stroke:none">ref</text><text transform="matrix(1 0 0 1.03 0 -9.909)" x="589.50" y="330.30" font-size="9.7" fill="#1a1a1a">&lt;3.6</text><line x1="535.60" y1="340.60" x2="548.60" y2="340.60" stroke="#000000" stroke-width="1.8"/><rect x="539.70" y="338.00" width="5.20" height="5.20" fill="#000000"/><text transform="matrix(1 0 0 1.03 0 -10.302)" x="550.90" y="343.40" font-size="9.7" fill="#1a1a1a">4.0&lt;</text><path d="M573.90 336.50V345.30M586.20 336.50V345.30" stroke="#2a2a2a" stroke-width="1.1"/><text x="575.40" y="342.20" font-size="8.8" fill="#333" transform="translate(575.40 0) scale(0.78 1) translate(-575.40 0)">η</text><text x="579.20" y="345.50" font-size="5.4" fill="#444" style="stroke:none">ref</text><text transform="matrix(1 0 0 1.03 0 -10.302)" x="589.50" y="343.40" font-size="9.7" fill="#1a1a1a">&lt;4.9</text></g>
<text transform="matrix(1 0 0 1.03 0 -0.942)" x="30.40" y="31.40" font-size="11.2" text-anchor="end" fill="#222">1</text>
<text transform="matrix(1 0 0 1.03 0 -2.799)" x="29.00" y="93.30" font-size="11.2" text-anchor="end" fill="#222">0.9</text>
<text transform="matrix(1 0 0 1.03 0 -4.656)" x="29.00" y="155.20" font-size="11.2" text-anchor="end" fill="#222">0.8</text>
<text transform="translate(10.8 25.3) rotate(-90)" font-size="12" fill="#000">r<tspan font-size="8.7" dy="4.2">3|3;1</tspan></text>
<text transform="matrix(1 0 0 1.03 0 -6.255)" x="30.40" y="208.50" font-size="11.2" text-anchor="end" fill="#222">1</text>
<text transform="matrix(1 0 0 1.03 0 -8.118)" x="29.00" y="270.60" font-size="11.2" text-anchor="end" fill="#222">0.9</text>
<text transform="matrix(1 0 0 1.03 0 -9.981)" x="29.00" y="332.70" font-size="11.2" text-anchor="end" fill="#222">0.8</text>
<text transform="translate(10.8 202.6) rotate(-90)" font-size="12" fill="#000">r<tspan font-size="8.7" dy="4.2">3|3;1</tspan></text>
<text transform="matrix(1 0 0 1.03 0 -10.986)" x="31.90" y="366.2" font-size="11.2" text-anchor="middle" fill="#222">0</text>
<text transform="matrix(1 0 0 1.03 0 -10.986)" x="63.81" y="366.2" font-size="11.2" text-anchor="middle" fill="#222">0.5</text>
<text transform="matrix(1 0 0 1.03 0 -10.986)" x="95.72" y="366.2" font-size="11.2" text-anchor="middle" fill="#222">1</text>
<text transform="matrix(1 0 0 1.03 0 -10.986)" x="127.62" y="366.2" font-size="11.2" text-anchor="middle" fill="#222">1.5</text>
<text transform="matrix(1 0 0 1.03 0 -10.986)" x="159.53" y="366.2" font-size="11.2" text-anchor="middle" fill="#222">2</text>
<text x="0" y="374.6" font-size="13" text-anchor="end" fill="#111" transform="translate(191.70 0) scale(1.18 1)">η</text>
<text transform="matrix(1 0 0 1.03 0 -10.986)" x="197.30" y="366.2" font-size="11.2" text-anchor="middle" fill="#222">0</text>
<text transform="matrix(1 0 0 1.03 0 -10.986)" x="228.83" y="366.2" font-size="11.2" text-anchor="middle" fill="#222">0.5</text>
<text transform="matrix(1 0 0 1.03 0 -10.986)" x="260.35" y="366.2" font-size="11.2" text-anchor="middle" fill="#222">1</text>
<text transform="matrix(1 0 0 1.03 0 -10.986)" x="291.88" y="366.2" font-size="11.2" text-anchor="middle" fill="#222">1.5</text>
<text transform="matrix(1 0 0 1.03 0 -10.986)" x="323.40" y="366.2" font-size="11.2" text-anchor="middle" fill="#222">2</text>
<text x="0" y="374.6" font-size="13" text-anchor="end" fill="#111" transform="translate(355.20 0) scale(1.18 1)">η</text>
<text transform="matrix(1 0 0 1.03 0 -10.986)" x="360.60" y="366.2" font-size="11.2" text-anchor="middle" fill="#222">0</text>
<text transform="matrix(1 0 0 1.03 0 -10.986)" x="392.15" y="366.2" font-size="11.2" text-anchor="middle" fill="#222">0.5</text>
<text transform="matrix(1 0 0 1.03 0 -10.986)" x="423.69" y="366.2" font-size="11.2" text-anchor="middle" fill="#222">1</text>
<text transform="matrix(1 0 0 1.03 0 -10.986)" x="455.24" y="366.2" font-size="11.2" text-anchor="middle" fill="#222">1.5</text>
<text transform="matrix(1 0 0 1.03 0 -10.986)" x="486.78" y="366.2" font-size="11.2" text-anchor="middle" fill="#222">2</text>
<text x="0" y="374.6" font-size="13" text-anchor="end" fill="#111" transform="translate(518.60 0) scale(1.18 1)">η</text>
<text transform="matrix(1 0 0 1.03 0 -10.986)" x="524.00" y="366.2" font-size="11.2" text-anchor="middle" fill="#222">0</text>
<text transform="matrix(1 0 0 1.03 0 -10.986)" x="555.63" y="366.2" font-size="11.2" text-anchor="middle" fill="#222">0.5</text>
<text transform="matrix(1 0 0 1.03 0 -10.986)" x="587.25" y="366.2" font-size="11.2" text-anchor="middle" fill="#222">1</text>
<text transform="matrix(1 0 0 1.03 0 -10.986)" x="618.88" y="366.2" font-size="11.2" text-anchor="middle" fill="#222">1.5</text>
<text transform="matrix(1 0 0 1.03 0 -10.986)" x="650.51" y="366.2" font-size="11.2" text-anchor="middle" fill="#222">2</text>
<text x="0" y="374.6" font-size="13" text-anchor="end" fill="#111" transform="translate(682.40 0) scale(1.18 1)">η</text>
</svg></body></html>
